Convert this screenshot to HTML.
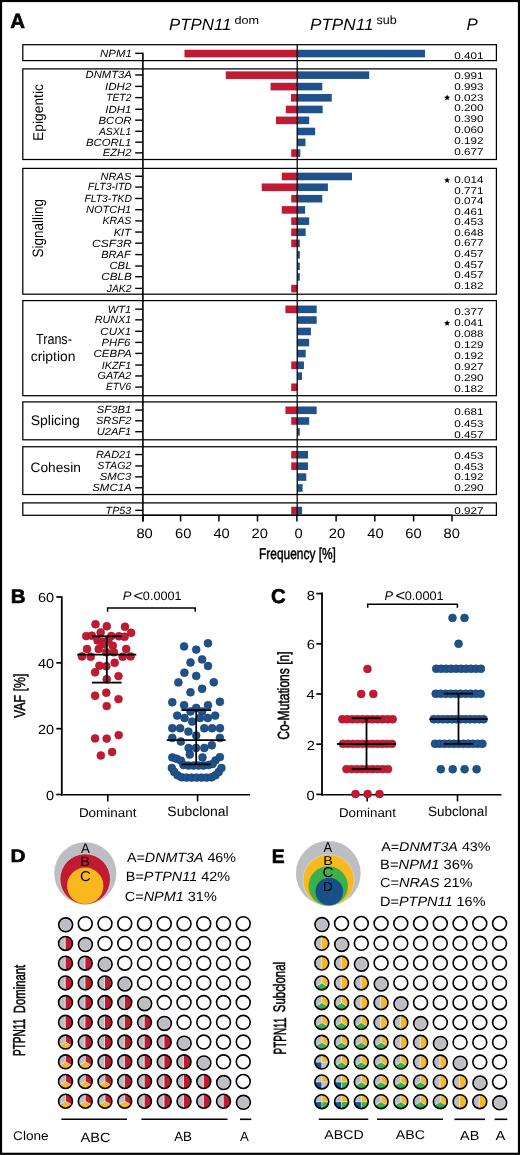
<!DOCTYPE html>
<html><head><meta charset="utf-8"><title>Figure</title>
<style>
html,body{margin:0;padding:0;background:#fff;}
body{width:520px;height:1155px;overflow:hidden;}
svg{display:block;font-family:"Liberation Sans", sans-serif;text-rendering:geometricPrecision;will-change:transform;}
</style></head>
<body>
<svg width="520" height="1155" viewBox="0 0 520 1155" font-family='"Liberation Sans", sans-serif'>
<rect x="0" y="0" width="520" height="1155" fill="#fff"/>
<text x="10.29" y="28.30" font-size="20.58" font-weight="bold" textLength="14.77" lengthAdjust="spacingAndGlyphs" stroke="#000" stroke-width="0.6">A</text>
<text x="168.99" y="30.00" font-size="16.30" font-style="italic" textLength="62.44" lengthAdjust="spacingAndGlyphs">PTPN11</text>
<text x="234.49" y="23.64" font-size="11.22" textLength="24.58" lengthAdjust="spacingAndGlyphs">dom</text>
<text x="309.99" y="30.00" font-size="16.30" font-style="italic" textLength="63.47" lengthAdjust="spacingAndGlyphs">PTPN11</text>
<text x="376.62" y="24.38" font-size="12.24" textLength="20.15" lengthAdjust="spacingAndGlyphs">sub</text>
<text x="466.40" y="29.60" font-size="16.67" font-style="italic" textLength="11.22" lengthAdjust="spacingAndGlyphs">P</text>
<rect x="184.49" y="49.75" width="112.71" height="7.60" fill="#c11b33"/>
<rect x="297.20" y="49.75" width="127.77" height="7.60" fill="#1f528b"/>
<rect x="225.79" y="71.36" width="71.41" height="7.60" fill="#c11b33"/>
<rect x="297.20" y="71.36" width="71.99" height="7.60" fill="#1f528b"/>
<rect x="270.57" y="82.79" width="26.63" height="7.60" fill="#c11b33"/>
<rect x="297.20" y="82.79" width="25.09" height="7.60" fill="#1f528b"/>
<rect x="291.02" y="94.01" width="6.18" height="7.60" fill="#c11b33"/>
<rect x="297.20" y="94.01" width="34.55" height="7.60" fill="#1f528b"/>
<rect x="285.81" y="105.65" width="11.39" height="7.60" fill="#c11b33"/>
<rect x="297.20" y="105.65" width="25.48" height="7.60" fill="#1f528b"/>
<rect x="275.97" y="116.56" width="21.23" height="7.60" fill="#c11b33"/>
<rect x="297.20" y="116.56" width="11.97" height="7.60" fill="#1f528b"/>
<rect x="297.20" y="127.67" width="17.95" height="7.60" fill="#1f528b"/>
<rect x="297.20" y="138.58" width="8.30" height="7.60" fill="#1f528b"/>
<rect x="291.22" y="149.28" width="5.98" height="7.60" fill="#c11b33"/>
<rect x="297.20" y="149.28" width="3.09" height="7.60" fill="#1f528b"/>
<rect x="281.76" y="172.66" width="15.44" height="7.60" fill="#c11b33"/>
<rect x="297.20" y="172.66" width="54.81" height="7.60" fill="#1f528b"/>
<rect x="261.69" y="183.46" width="35.51" height="7.60" fill="#c11b33"/>
<rect x="297.20" y="183.46" width="30.69" height="7.60" fill="#1f528b"/>
<rect x="291.22" y="194.89" width="5.98" height="7.60" fill="#c11b33"/>
<rect x="297.20" y="194.89" width="25.09" height="7.60" fill="#1f528b"/>
<rect x="281.76" y="206.11" width="15.44" height="7.60" fill="#c11b33"/>
<rect x="297.20" y="206.11" width="7.91" height="7.60" fill="#1f528b"/>
<rect x="291.22" y="217.34" width="5.98" height="7.60" fill="#c11b33"/>
<rect x="297.20" y="217.34" width="11.97" height="7.60" fill="#1f528b"/>
<rect x="291.22" y="228.45" width="5.98" height="7.60" fill="#c11b33"/>
<rect x="297.20" y="228.45" width="8.49" height="7.60" fill="#1f528b"/>
<rect x="291.22" y="239.57" width="5.98" height="7.60" fill="#c11b33"/>
<rect x="297.20" y="239.57" width="2.61" height="7.60" fill="#1f528b"/>
<rect x="297.20" y="251.00" width="2.61" height="7.60" fill="#1f528b"/>
<rect x="297.20" y="262.43" width="2.61" height="7.60" fill="#1f528b"/>
<rect x="297.20" y="273.13" width="2.61" height="7.60" fill="#1f528b"/>
<rect x="291.22" y="284.80" width="5.98" height="7.60" fill="#c11b33"/>
<rect x="285.43" y="305.54" width="11.77" height="7.60" fill="#c11b33"/>
<rect x="297.20" y="305.54" width="19.49" height="7.60" fill="#1f528b"/>
<rect x="297.20" y="316.24" width="19.49" height="7.60" fill="#1f528b"/>
<rect x="297.20" y="327.67" width="13.70" height="7.60" fill="#1f528b"/>
<rect x="297.20" y="338.79" width="11.97" height="7.60" fill="#1f528b"/>
<rect x="297.20" y="349.80" width="8.49" height="7.60" fill="#1f528b"/>
<rect x="291.22" y="361.44" width="5.98" height="7.60" fill="#c11b33"/>
<rect x="297.20" y="361.44" width="6.75" height="7.60" fill="#1f528b"/>
<rect x="297.20" y="372.35" width="4.83" height="7.60" fill="#1f528b"/>
<rect x="291.22" y="383.46" width="5.98" height="7.60" fill="#c11b33"/>
<rect x="285.43" y="406.48" width="11.77" height="7.60" fill="#c11b33"/>
<rect x="297.20" y="406.48" width="19.49" height="7.60" fill="#1f528b"/>
<rect x="291.22" y="417.18" width="5.98" height="7.60" fill="#c11b33"/>
<rect x="297.20" y="417.18" width="11.97" height="7.60" fill="#1f528b"/>
<rect x="297.20" y="428.09" width="2.61" height="7.60" fill="#1f528b"/>
<rect x="291.22" y="450.95" width="5.98" height="7.60" fill="#c11b33"/>
<rect x="297.20" y="450.95" width="10.81" height="7.60" fill="#1f528b"/>
<rect x="291.22" y="462.37" width="5.98" height="7.60" fill="#c11b33"/>
<rect x="297.20" y="462.37" width="10.81" height="7.60" fill="#1f528b"/>
<rect x="297.20" y="473.28" width="9.07" height="7.60" fill="#1f528b"/>
<rect x="297.20" y="484.19" width="5.40" height="7.60" fill="#1f528b"/>
<rect x="291.22" y="506.74" width="5.98" height="7.60" fill="#c11b33"/>
<rect x="297.20" y="506.74" width="4.83" height="7.60" fill="#1f528b"/>
<rect x="22.80" y="44.70" width="473.60" height="15.90" fill="none" stroke="#000" stroke-width="1.25"/>
<rect x="22.80" y="68.90" width="473.60" height="90.60" fill="none" stroke="#000" stroke-width="1.25"/>
<rect x="22.80" y="168.40" width="473.60" height="125.80" fill="none" stroke="#000" stroke-width="1.25"/>
<rect x="22.80" y="300.60" width="473.60" height="95.10" fill="none" stroke="#000" stroke-width="1.25"/>
<rect x="22.80" y="401.90" width="473.60" height="37.90" fill="none" stroke="#000" stroke-width="1.25"/>
<rect x="22.80" y="446.75" width="473.60" height="47.80" fill="none" stroke="#000" stroke-width="1.25"/>
<rect x="22.80" y="502.90" width="473.60" height="12.40" fill="none" stroke="#000" stroke-width="1.25"/>
<line x1="297.20" y1="44.70" x2="297.20" y2="515.30" stroke="#000" stroke-width="1.25"/>
<line x1="142.90" y1="52.65" x2="142.90" y2="521.50" stroke="#000" stroke-width="1.6"/>
<line x1="135.20" y1="53.35" x2="143.00" y2="53.35" stroke="#000" stroke-width="1.4"/>
<text x="99.95" y="56.85" font-size="10.40" font-style="italic" textLength="32.01" lengthAdjust="spacingAndGlyphs">NPM1</text>
<line x1="135.20" y1="74.96" x2="143.00" y2="74.96" stroke="#000" stroke-width="1.4"/>
<text x="85.56" y="78.36" font-size="10.40" font-style="italic" textLength="46.22" lengthAdjust="spacingAndGlyphs">DNMT3A</text>
<line x1="135.20" y1="86.39" x2="143.00" y2="86.39" stroke="#000" stroke-width="1.4"/>
<text x="105.09" y="89.89" font-size="10.40" font-style="italic" textLength="26.32" lengthAdjust="spacingAndGlyphs">IDH2</text>
<line x1="135.20" y1="97.61" x2="143.00" y2="97.61" stroke="#000" stroke-width="1.4"/>
<text x="106.28" y="101.11" font-size="10.40" font-style="italic" textLength="25.08" lengthAdjust="spacingAndGlyphs">TET2</text>
<line x1="135.20" y1="109.25" x2="143.00" y2="109.25" stroke="#000" stroke-width="1.4"/>
<text x="105.24" y="112.75" font-size="10.40" font-style="italic" textLength="26.07" lengthAdjust="spacingAndGlyphs">IDH1</text>
<line x1="135.20" y1="120.16" x2="143.00" y2="120.16" stroke="#000" stroke-width="1.4"/>
<text x="98.46" y="123.56" font-size="10.40" font-style="italic" textLength="33.14" lengthAdjust="spacingAndGlyphs">BCOR</text>
<line x1="135.20" y1="131.27" x2="143.00" y2="131.27" stroke="#000" stroke-width="1.4"/>
<text x="98.92" y="134.67" font-size="10.40" font-style="italic" textLength="32.30" lengthAdjust="spacingAndGlyphs">ASXL1</text>
<line x1="135.20" y1="142.18" x2="143.00" y2="142.18" stroke="#000" stroke-width="1.4"/>
<text x="85.96" y="145.58" font-size="10.40" font-style="italic" textLength="45.32" lengthAdjust="spacingAndGlyphs">BCORL1</text>
<line x1="135.20" y1="152.88" x2="143.00" y2="152.88" stroke="#000" stroke-width="1.4"/>
<text x="102.71" y="156.38" font-size="10.40" font-style="italic" textLength="28.67" lengthAdjust="spacingAndGlyphs">EZH2</text>
<line x1="135.20" y1="176.26" x2="143.00" y2="176.26" stroke="#000" stroke-width="1.4"/>
<text x="100.57" y="179.66" font-size="10.40" font-style="italic" textLength="30.78" lengthAdjust="spacingAndGlyphs">NRAS</text>
<line x1="135.20" y1="187.06" x2="143.00" y2="187.06" stroke="#000" stroke-width="1.4"/>
<text x="87.73" y="190.46" font-size="10.40" font-style="italic" textLength="44.22" lengthAdjust="spacingAndGlyphs">FLT3-ITD</text>
<line x1="135.20" y1="198.49" x2="143.00" y2="198.49" stroke="#000" stroke-width="1.4"/>
<text x="84.39" y="201.89" font-size="10.40" font-style="italic" textLength="47.55" lengthAdjust="spacingAndGlyphs">FLT3-TKD</text>
<line x1="135.20" y1="209.71" x2="143.00" y2="209.71" stroke="#000" stroke-width="1.4"/>
<text x="85.97" y="213.11" font-size="10.40" font-style="italic" textLength="45.28" lengthAdjust="spacingAndGlyphs">NOTCH1</text>
<line x1="135.20" y1="220.94" x2="143.00" y2="220.94" stroke="#000" stroke-width="1.4"/>
<text x="102.48" y="224.34" font-size="10.40" font-style="italic" textLength="28.86" lengthAdjust="spacingAndGlyphs">KRAS</text>
<line x1="135.20" y1="232.05" x2="143.00" y2="232.05" stroke="#000" stroke-width="1.4"/>
<text x="113.72" y="235.55" font-size="10.40" font-style="italic" textLength="17.23" lengthAdjust="spacingAndGlyphs">KIT</text>
<line x1="135.20" y1="243.17" x2="143.00" y2="243.17" stroke="#000" stroke-width="1.4"/>
<text x="92.14" y="246.57" font-size="10.40" font-style="italic" textLength="39.46" lengthAdjust="spacingAndGlyphs">CSF3R</text>
<line x1="135.20" y1="254.60" x2="143.00" y2="254.60" stroke="#000" stroke-width="1.4"/>
<text x="101.22" y="258.10" font-size="10.40" font-style="italic" textLength="29.45" lengthAdjust="spacingAndGlyphs">BRAF</text>
<line x1="135.20" y1="266.03" x2="143.00" y2="266.03" stroke="#000" stroke-width="1.4"/>
<text x="109.43" y="269.43" font-size="10.40" font-style="italic" textLength="22.07" lengthAdjust="spacingAndGlyphs">CBL</text>
<line x1="135.20" y1="276.73" x2="143.00" y2="276.73" stroke="#000" stroke-width="1.4"/>
<text x="101.15" y="280.13" font-size="10.40" font-style="italic" textLength="30.83" lengthAdjust="spacingAndGlyphs">CBLB</text>
<line x1="135.20" y1="288.40" x2="143.00" y2="288.40" stroke="#000" stroke-width="1.4"/>
<text x="106.80" y="291.80" font-size="10.40" font-style="italic" textLength="24.56" lengthAdjust="spacingAndGlyphs">JAK2</text>
<line x1="135.20" y1="309.14" x2="143.00" y2="309.14" stroke="#000" stroke-width="1.4"/>
<text x="107.86" y="312.64" font-size="10.40" font-style="italic" textLength="23.39" lengthAdjust="spacingAndGlyphs">WT1</text>
<line x1="135.20" y1="319.84" x2="143.00" y2="319.84" stroke="#000" stroke-width="1.4"/>
<text x="94.73" y="323.24" font-size="10.40" font-style="italic" textLength="36.49" lengthAdjust="spacingAndGlyphs">RUNX1</text>
<line x1="135.20" y1="331.27" x2="143.00" y2="331.27" stroke="#000" stroke-width="1.4"/>
<text x="100.26" y="334.67" font-size="10.40" font-style="italic" textLength="31.06" lengthAdjust="spacingAndGlyphs">CUX1</text>
<line x1="135.20" y1="342.39" x2="143.00" y2="342.39" stroke="#000" stroke-width="1.4"/>
<text x="101.46" y="345.79" font-size="10.40" font-style="italic" textLength="28.85" lengthAdjust="spacingAndGlyphs">PHF6</text>
<line x1="135.20" y1="353.40" x2="143.00" y2="353.40" stroke="#000" stroke-width="1.4"/>
<text x="93.41" y="356.80" font-size="10.40" font-style="italic" textLength="38.38" lengthAdjust="spacingAndGlyphs">CEBPA</text>
<line x1="135.20" y1="365.04" x2="143.00" y2="365.04" stroke="#000" stroke-width="1.4"/>
<text x="101.77" y="368.54" font-size="10.40" font-style="italic" textLength="29.48" lengthAdjust="spacingAndGlyphs">IKZF1</text>
<line x1="135.20" y1="375.95" x2="143.00" y2="375.95" stroke="#000" stroke-width="1.4"/>
<text x="97.51" y="379.35" font-size="10.40" font-style="italic" textLength="33.86" lengthAdjust="spacingAndGlyphs">GATA2</text>
<line x1="135.20" y1="387.06" x2="143.00" y2="387.06" stroke="#000" stroke-width="1.4"/>
<text x="106.00" y="390.46" font-size="10.40" font-style="italic" textLength="25.21" lengthAdjust="spacingAndGlyphs">ETV6</text>
<line x1="135.20" y1="410.08" x2="143.00" y2="410.08" stroke="#000" stroke-width="1.4"/>
<text x="96.86" y="413.48" font-size="10.40" font-style="italic" textLength="34.42" lengthAdjust="spacingAndGlyphs">SF3B1</text>
<line x1="135.20" y1="420.78" x2="143.00" y2="420.78" stroke="#000" stroke-width="1.4"/>
<text x="95.97" y="424.18" font-size="10.40" font-style="italic" textLength="35.43" lengthAdjust="spacingAndGlyphs">SRSF2</text>
<line x1="135.20" y1="431.69" x2="143.00" y2="431.69" stroke="#000" stroke-width="1.4"/>
<text x="96.72" y="435.09" font-size="10.40" font-style="italic" textLength="34.55" lengthAdjust="spacingAndGlyphs">U2AF1</text>
<line x1="135.20" y1="454.55" x2="143.00" y2="454.55" stroke="#000" stroke-width="1.4"/>
<text x="95.97" y="458.05" font-size="10.40" font-style="italic" textLength="35.24" lengthAdjust="spacingAndGlyphs">RAD21</text>
<line x1="135.20" y1="465.97" x2="143.00" y2="465.97" stroke="#000" stroke-width="1.4"/>
<text x="97.23" y="469.37" font-size="10.40" font-style="italic" textLength="34.13" lengthAdjust="spacingAndGlyphs">STAG2</text>
<line x1="135.20" y1="476.88" x2="143.00" y2="476.88" stroke="#000" stroke-width="1.4"/>
<text x="99.71" y="480.28" font-size="10.40" font-style="italic" textLength="31.59" lengthAdjust="spacingAndGlyphs">SMC3</text>
<line x1="135.20" y1="487.79" x2="143.00" y2="487.79" stroke="#000" stroke-width="1.4"/>
<text x="92.21" y="491.19" font-size="10.40" font-style="italic" textLength="39.57" lengthAdjust="spacingAndGlyphs">SMC1A</text>
<line x1="135.20" y1="510.34" x2="143.00" y2="510.34" stroke="#000" stroke-width="1.4"/>
<text x="105.58" y="513.74" font-size="10.40" font-style="italic" textLength="25.67" lengthAdjust="spacingAndGlyphs">TP53</text>
<line x1="143.00" y1="515.20" x2="452.00" y2="515.20" stroke="#000" stroke-width="1.5"/>
<line x1="142.90" y1="515.20" x2="142.90" y2="521.50" stroke="#000" stroke-width="1.5"/>
<text x="136.45" y="537.70" font-size="13.70" textLength="16.38" lengthAdjust="spacingAndGlyphs">80</text>
<line x1="180.60" y1="515.20" x2="180.60" y2="521.50" stroke="#000" stroke-width="1.5"/>
<text x="174.97" y="537.70" font-size="13.70" textLength="16.38" lengthAdjust="spacingAndGlyphs">60</text>
<line x1="218.90" y1="515.20" x2="218.90" y2="521.50" stroke="#000" stroke-width="1.5"/>
<text x="213.44" y="537.70" font-size="13.70" textLength="16.38" lengthAdjust="spacingAndGlyphs">40</text>
<line x1="257.50" y1="515.20" x2="257.50" y2="521.50" stroke="#000" stroke-width="1.5"/>
<text x="251.62" y="537.70" font-size="13.70" textLength="16.38" lengthAdjust="spacingAndGlyphs">20</text>
<line x1="296.90" y1="515.20" x2="296.90" y2="521.50" stroke="#000" stroke-width="1.5"/>
<text x="294.53" y="537.70" font-size="13.70" textLength="8.19" lengthAdjust="spacingAndGlyphs">0</text>
<line x1="336.10" y1="515.20" x2="336.10" y2="521.50" stroke="#000" stroke-width="1.5"/>
<text x="328.77" y="537.70" font-size="13.70" textLength="16.38" lengthAdjust="spacingAndGlyphs">20</text>
<line x1="374.80" y1="515.20" x2="374.80" y2="521.50" stroke="#000" stroke-width="1.5"/>
<text x="367.24" y="537.70" font-size="13.70" textLength="16.38" lengthAdjust="spacingAndGlyphs">40</text>
<line x1="413.60" y1="515.20" x2="413.60" y2="521.50" stroke="#000" stroke-width="1.5"/>
<text x="405.27" y="537.70" font-size="13.70" textLength="16.38" lengthAdjust="spacingAndGlyphs">60</text>
<line x1="452.00" y1="515.20" x2="452.00" y2="521.50" stroke="#000" stroke-width="1.5"/>
<text x="443.50" y="537.70" font-size="13.70" textLength="16.38" lengthAdjust="spacingAndGlyphs">80</text>
<text x="259.05" y="559.20" font-size="15.72" textLength="76.82" lengthAdjust="spacingAndGlyphs" stroke="#000" stroke-width="0.5">Frequency [%]</text>
<text transform="translate(43.34,140.91) rotate(-90)" x="0" y="0" font-size="14.12" textLength="56.84" lengthAdjust="spacingAndGlyphs">Epigentic</text>
<text transform="translate(43.46,257.51) rotate(-90)" x="0" y="0" font-size="14.97" textLength="58.40" lengthAdjust="spacingAndGlyphs">Signalling</text>
<text x="36.05" y="343.65" font-size="14.71" textLength="35.78" lengthAdjust="spacingAndGlyphs">Trans-</text>
<text x="30.75" y="361.00" font-size="13.80" textLength="44.64" lengthAdjust="spacingAndGlyphs">cription</text>
<text x="30.67" y="425.00" font-size="13.80" textLength="49.07" lengthAdjust="spacingAndGlyphs">Splicing</text>
<text x="30.62" y="472.36" font-size="13.61" textLength="50.26" lengthAdjust="spacingAndGlyphs">Cohesin</text>
<text x="454.33" y="58.90" font-size="9.70" textLength="29.13" lengthAdjust="spacingAndGlyphs">0.401</text>
<text x="454.33" y="78.50" font-size="9.70" textLength="29.13" lengthAdjust="spacingAndGlyphs">0.991</text>
<text x="454.33" y="89.80" font-size="9.70" textLength="29.13" lengthAdjust="spacingAndGlyphs">0.993</text>
<text x="454.33" y="100.60" font-size="9.70" textLength="29.13" lengthAdjust="spacingAndGlyphs">0.023</text>
<polygon points="447.10,94.50 447.95,96.54 450.14,96.71 448.47,98.14 448.98,100.29 447.10,99.14 445.22,100.29 445.73,98.14 444.06,96.71 446.25,96.54" fill="#000"/>
<text x="454.33" y="111.40" font-size="9.70" textLength="29.13" lengthAdjust="spacingAndGlyphs">0.200</text>
<text x="454.33" y="122.30" font-size="9.70" textLength="29.13" lengthAdjust="spacingAndGlyphs">0.390</text>
<text x="454.33" y="133.30" font-size="9.70" textLength="29.13" lengthAdjust="spacingAndGlyphs">0.060</text>
<text x="454.33" y="144.20" font-size="9.70" textLength="29.13" lengthAdjust="spacingAndGlyphs">0.192</text>
<text x="454.33" y="155.20" font-size="9.70" textLength="29.13" lengthAdjust="spacingAndGlyphs">0.677</text>
<text x="454.33" y="183.30" font-size="9.70" textLength="29.13" lengthAdjust="spacingAndGlyphs">0.014</text>
<polygon points="447.10,177.20 447.95,179.24 450.14,179.41 448.47,180.84 448.98,182.99 447.10,181.84 445.22,182.99 445.73,180.84 444.06,179.41 446.25,179.24" fill="#000"/>
<text x="454.33" y="193.70" font-size="9.70" textLength="29.13" lengthAdjust="spacingAndGlyphs">0.771</text>
<text x="454.33" y="204.10" font-size="9.70" textLength="29.13" lengthAdjust="spacingAndGlyphs">0.074</text>
<text x="454.33" y="214.80" font-size="9.70" textLength="29.13" lengthAdjust="spacingAndGlyphs">0.461</text>
<text x="454.33" y="225.40" font-size="9.70" textLength="29.13" lengthAdjust="spacingAndGlyphs">0.453</text>
<text x="454.33" y="235.80" font-size="9.70" textLength="29.13" lengthAdjust="spacingAndGlyphs">0.648</text>
<text x="454.33" y="246.20" font-size="9.70" textLength="29.13" lengthAdjust="spacingAndGlyphs">0.677</text>
<text x="454.33" y="256.80" font-size="9.70" textLength="29.13" lengthAdjust="spacingAndGlyphs">0.457</text>
<text x="454.33" y="267.50" font-size="9.70" textLength="29.13" lengthAdjust="spacingAndGlyphs">0.457</text>
<text x="454.33" y="277.90" font-size="9.70" textLength="29.13" lengthAdjust="spacingAndGlyphs">0.457</text>
<text x="454.33" y="288.60" font-size="9.70" textLength="29.13" lengthAdjust="spacingAndGlyphs">0.182</text>
<text x="454.33" y="315.10" font-size="9.70" textLength="29.13" lengthAdjust="spacingAndGlyphs">0.377</text>
<text x="454.33" y="326.10" font-size="9.70" textLength="29.13" lengthAdjust="spacingAndGlyphs">0.041</text>
<polygon points="447.10,320.00 447.95,322.04 450.14,322.21 448.47,323.64 448.98,325.79 447.10,324.64 445.22,325.79 445.73,323.64 444.06,322.21 446.25,322.04" fill="#000"/>
<text x="454.33" y="336.70" font-size="9.70" textLength="29.13" lengthAdjust="spacingAndGlyphs">0.088</text>
<text x="454.33" y="348.00" font-size="9.70" textLength="29.13" lengthAdjust="spacingAndGlyphs">0.129</text>
<text x="454.33" y="359.00" font-size="9.70" textLength="29.13" lengthAdjust="spacingAndGlyphs">0.192</text>
<text x="454.33" y="369.90" font-size="9.70" textLength="29.13" lengthAdjust="spacingAndGlyphs">0.927</text>
<text x="454.33" y="380.90" font-size="9.70" textLength="29.13" lengthAdjust="spacingAndGlyphs">0.290</text>
<text x="454.33" y="391.60" font-size="9.70" textLength="29.13" lengthAdjust="spacingAndGlyphs">0.182</text>
<text x="454.33" y="414.60" font-size="9.70" textLength="29.13" lengthAdjust="spacingAndGlyphs">0.681</text>
<text x="454.33" y="427.00" font-size="9.70" textLength="29.13" lengthAdjust="spacingAndGlyphs">0.453</text>
<text x="454.33" y="438.20" font-size="9.70" textLength="29.13" lengthAdjust="spacingAndGlyphs">0.457</text>
<text x="454.33" y="459.00" font-size="9.70" textLength="29.13" lengthAdjust="spacingAndGlyphs">0.453</text>
<text x="454.33" y="469.70" font-size="9.70" textLength="29.13" lengthAdjust="spacingAndGlyphs">0.453</text>
<text x="454.33" y="480.10" font-size="9.70" textLength="29.13" lengthAdjust="spacingAndGlyphs">0.192</text>
<text x="454.33" y="490.90" font-size="9.70" textLength="29.13" lengthAdjust="spacingAndGlyphs">0.290</text>
<text x="454.33" y="513.80" font-size="9.70" textLength="29.13" lengthAdjust="spacingAndGlyphs">0.927</text>
<text x="10.77" y="602.60" font-size="19.71" font-weight="bold" textLength="14.80" lengthAdjust="spacingAndGlyphs" stroke="#000" stroke-width="0.6">B</text>
<line x1="61.80" y1="596.30" x2="61.80" y2="795.50" stroke="#000" stroke-width="1.8"/>
<line x1="56.30" y1="794.50" x2="61.80" y2="794.50" stroke="#000" stroke-width="1.7"/>
<text x="46.05" y="799.60" font-size="13.20" textLength="8.08" lengthAdjust="spacingAndGlyphs">0</text>
<line x1="56.30" y1="728.67" x2="61.80" y2="728.67" stroke="#000" stroke-width="1.7"/>
<text x="37.99" y="733.77" font-size="13.20" textLength="16.15" lengthAdjust="spacingAndGlyphs">20</text>
<line x1="56.30" y1="662.83" x2="61.80" y2="662.83" stroke="#000" stroke-width="1.7"/>
<text x="37.99" y="667.93" font-size="13.20" textLength="16.15" lengthAdjust="spacingAndGlyphs">40</text>
<line x1="56.30" y1="597.00" x2="61.80" y2="597.00" stroke="#000" stroke-width="1.7"/>
<text x="37.99" y="602.10" font-size="13.20" textLength="16.15" lengthAdjust="spacingAndGlyphs">60</text>
<line x1="61.00" y1="794.70" x2="250.00" y2="794.70" stroke="#000" stroke-width="1.6"/>
<line x1="107.80" y1="794.70" x2="107.80" y2="801.40" stroke="#000" stroke-width="1.6"/>
<line x1="197.60" y1="794.70" x2="197.60" y2="801.40" stroke="#000" stroke-width="1.6"/>
<text x="78.93" y="816.77" font-size="12.79" textLength="57.46" lengthAdjust="spacingAndGlyphs">Dominant</text>
<text x="167.37" y="816.46" font-size="13.74" textLength="61.27" lengthAdjust="spacingAndGlyphs">Subclonal</text>
<text transform="translate(24.60,718.06) rotate(-90)" x="0" y="0" font-size="15.72" textLength="44.37" lengthAdjust="spacingAndGlyphs" stroke="#000" stroke-width="0.5">VAF [%]</text>
<circle cx="95.50" cy="624.30" r="3.95" fill="#c11b33" stroke="#a5132b" stroke-width="0.6"/>
<circle cx="106.80" cy="626.20" r="3.95" fill="#c11b33" stroke="#a5132b" stroke-width="0.6"/>
<circle cx="125.00" cy="626.80" r="3.95" fill="#c11b33" stroke="#a5132b" stroke-width="0.6"/>
<circle cx="100.70" cy="632.40" r="3.95" fill="#c11b33" stroke="#a5132b" stroke-width="0.6"/>
<circle cx="131.10" cy="632.80" r="3.95" fill="#c11b33" stroke="#a5132b" stroke-width="0.6"/>
<circle cx="86.20" cy="636.10" r="3.95" fill="#c11b33" stroke="#a5132b" stroke-width="0.6"/>
<circle cx="91.80" cy="635.70" r="3.95" fill="#c11b33" stroke="#a5132b" stroke-width="0.6"/>
<circle cx="111.30" cy="636.00" r="3.95" fill="#c11b33" stroke="#a5132b" stroke-width="0.6"/>
<circle cx="118.90" cy="636.30" r="3.95" fill="#c11b33" stroke="#a5132b" stroke-width="0.6"/>
<circle cx="124.60" cy="636.80" r="3.95" fill="#c11b33" stroke="#a5132b" stroke-width="0.6"/>
<circle cx="97.50" cy="640.50" r="3.95" fill="#c11b33" stroke="#a5132b" stroke-width="0.6"/>
<circle cx="102.30" cy="641.70" r="3.95" fill="#c11b33" stroke="#a5132b" stroke-width="0.6"/>
<circle cx="104.50" cy="644.00" r="3.95" fill="#c11b33" stroke="#a5132b" stroke-width="0.6"/>
<circle cx="108.50" cy="639.50" r="3.95" fill="#c11b33" stroke="#a5132b" stroke-width="0.6"/>
<circle cx="112.80" cy="645.80" r="3.95" fill="#c11b33" stroke="#a5132b" stroke-width="0.6"/>
<circle cx="87.00" cy="649.00" r="3.95" fill="#c11b33" stroke="#a5132b" stroke-width="0.6"/>
<circle cx="98.70" cy="649.00" r="3.95" fill="#c11b33" stroke="#a5132b" stroke-width="0.6"/>
<circle cx="126.20" cy="649.00" r="3.95" fill="#c11b33" stroke="#a5132b" stroke-width="0.6"/>
<circle cx="106.30" cy="652.30" r="3.95" fill="#c11b33" stroke="#a5132b" stroke-width="0.6"/>
<circle cx="113.90" cy="652.30" r="3.95" fill="#c11b33" stroke="#a5132b" stroke-width="0.6"/>
<circle cx="82.00" cy="656.40" r="3.95" fill="#c11b33" stroke="#a5132b" stroke-width="0.6"/>
<circle cx="90.70" cy="656.70" r="3.95" fill="#c11b33" stroke="#a5132b" stroke-width="0.6"/>
<circle cx="122.70" cy="656.70" r="3.95" fill="#c11b33" stroke="#a5132b" stroke-width="0.6"/>
<circle cx="130.60" cy="656.40" r="3.95" fill="#c11b33" stroke="#a5132b" stroke-width="0.6"/>
<circle cx="99.40" cy="665.70" r="3.95" fill="#c11b33" stroke="#a5132b" stroke-width="0.6"/>
<circle cx="106.30" cy="666.20" r="3.95" fill="#c11b33" stroke="#a5132b" stroke-width="0.6"/>
<circle cx="114.70" cy="662.80" r="3.95" fill="#c11b33" stroke="#a5132b" stroke-width="0.6"/>
<circle cx="95.10" cy="672.30" r="3.95" fill="#c11b33" stroke="#a5132b" stroke-width="0.6"/>
<circle cx="106.70" cy="679.20" r="3.95" fill="#c11b33" stroke="#a5132b" stroke-width="0.6"/>
<circle cx="118.50" cy="676.10" r="3.95" fill="#c11b33" stroke="#a5132b" stroke-width="0.6"/>
<circle cx="95.10" cy="695.70" r="3.95" fill="#c11b33" stroke="#a5132b" stroke-width="0.6"/>
<circle cx="106.30" cy="692.70" r="3.95" fill="#c11b33" stroke="#a5132b" stroke-width="0.6"/>
<circle cx="118.50" cy="699.10" r="3.95" fill="#c11b33" stroke="#a5132b" stroke-width="0.6"/>
<circle cx="106.70" cy="706.10" r="3.95" fill="#c11b33" stroke="#a5132b" stroke-width="0.6"/>
<circle cx="95.10" cy="738.40" r="3.95" fill="#c11b33" stroke="#a5132b" stroke-width="0.6"/>
<circle cx="106.70" cy="738.60" r="3.95" fill="#c11b33" stroke="#a5132b" stroke-width="0.6"/>
<circle cx="118.70" cy="735.10" r="3.95" fill="#c11b33" stroke="#a5132b" stroke-width="0.6"/>
<circle cx="100.80" cy="755.50" r="3.95" fill="#c11b33" stroke="#a5132b" stroke-width="0.6"/>
<circle cx="112.10" cy="752.00" r="3.95" fill="#c11b33" stroke="#a5132b" stroke-width="0.6"/>
<circle cx="184.10" cy="646.40" r="3.95" fill="#1f528b" stroke="#153f6e" stroke-width="0.6"/>
<circle cx="196.20" cy="649.60" r="3.95" fill="#1f528b" stroke="#153f6e" stroke-width="0.6"/>
<circle cx="208.00" cy="643.30" r="3.95" fill="#1f528b" stroke="#153f6e" stroke-width="0.6"/>
<circle cx="190.50" cy="662.50" r="3.95" fill="#1f528b" stroke="#153f6e" stroke-width="0.6"/>
<circle cx="202.10" cy="659.40" r="3.95" fill="#1f528b" stroke="#153f6e" stroke-width="0.6"/>
<circle cx="208.00" cy="666.00" r="3.95" fill="#1f528b" stroke="#153f6e" stroke-width="0.6"/>
<circle cx="184.40" cy="672.70" r="3.95" fill="#1f528b" stroke="#153f6e" stroke-width="0.6"/>
<circle cx="196.20" cy="675.90" r="3.95" fill="#1f528b" stroke="#153f6e" stroke-width="0.6"/>
<circle cx="178.40" cy="682.40" r="3.95" fill="#1f528b" stroke="#153f6e" stroke-width="0.6"/>
<circle cx="213.80" cy="682.30" r="3.95" fill="#1f528b" stroke="#153f6e" stroke-width="0.6"/>
<circle cx="190.50" cy="692.30" r="3.95" fill="#1f528b" stroke="#153f6e" stroke-width="0.6"/>
<circle cx="202.10" cy="688.80" r="3.95" fill="#1f528b" stroke="#153f6e" stroke-width="0.6"/>
<circle cx="172.30" cy="702.30" r="3.95" fill="#1f528b" stroke="#153f6e" stroke-width="0.6"/>
<circle cx="219.90" cy="701.80" r="3.95" fill="#1f528b" stroke="#153f6e" stroke-width="0.6"/>
<circle cx="184.10" cy="705.30" r="3.95" fill="#1f528b" stroke="#153f6e" stroke-width="0.6"/>
<circle cx="196.20" cy="707.90" r="3.95" fill="#1f528b" stroke="#153f6e" stroke-width="0.6"/>
<circle cx="208.00" cy="705.30" r="3.95" fill="#1f528b" stroke="#153f6e" stroke-width="0.6"/>
<circle cx="190.50" cy="711.50" r="3.95" fill="#1f528b" stroke="#153f6e" stroke-width="0.6"/>
<circle cx="202.10" cy="711.50" r="3.95" fill="#1f528b" stroke="#153f6e" stroke-width="0.6"/>
<circle cx="177.20" cy="715.60" r="3.95" fill="#1f528b" stroke="#153f6e" stroke-width="0.6"/>
<circle cx="184.50" cy="718.00" r="3.95" fill="#1f528b" stroke="#153f6e" stroke-width="0.6"/>
<circle cx="192.20" cy="721.60" r="3.95" fill="#1f528b" stroke="#153f6e" stroke-width="0.6"/>
<circle cx="200.00" cy="718.00" r="3.95" fill="#1f528b" stroke="#153f6e" stroke-width="0.6"/>
<circle cx="207.80" cy="718.00" r="3.95" fill="#1f528b" stroke="#153f6e" stroke-width="0.6"/>
<circle cx="215.20" cy="715.60" r="3.95" fill="#1f528b" stroke="#153f6e" stroke-width="0.6"/>
<circle cx="172.30" cy="728.20" r="3.95" fill="#1f528b" stroke="#153f6e" stroke-width="0.6"/>
<circle cx="180.10" cy="728.20" r="3.95" fill="#1f528b" stroke="#153f6e" stroke-width="0.6"/>
<circle cx="188.40" cy="731.60" r="3.95" fill="#1f528b" stroke="#153f6e" stroke-width="0.6"/>
<circle cx="204.30" cy="728.20" r="3.95" fill="#1f528b" stroke="#153f6e" stroke-width="0.6"/>
<circle cx="212.10" cy="728.20" r="3.95" fill="#1f528b" stroke="#153f6e" stroke-width="0.6"/>
<circle cx="220.00" cy="728.20" r="3.95" fill="#1f528b" stroke="#153f6e" stroke-width="0.6"/>
<circle cx="196.20" cy="735.50" r="3.95" fill="#1f528b" stroke="#153f6e" stroke-width="0.6"/>
<circle cx="172.30" cy="737.90" r="3.95" fill="#1f528b" stroke="#153f6e" stroke-width="0.6"/>
<circle cx="180.90" cy="741.50" r="3.95" fill="#1f528b" stroke="#153f6e" stroke-width="0.6"/>
<circle cx="219.90" cy="737.90" r="3.95" fill="#1f528b" stroke="#153f6e" stroke-width="0.6"/>
<circle cx="188.60" cy="748.00" r="3.95" fill="#1f528b" stroke="#153f6e" stroke-width="0.6"/>
<circle cx="196.00" cy="748.00" r="3.95" fill="#1f528b" stroke="#153f6e" stroke-width="0.6"/>
<circle cx="204.30" cy="748.00" r="3.95" fill="#1f528b" stroke="#153f6e" stroke-width="0.6"/>
<circle cx="211.80" cy="745.20" r="3.95" fill="#1f528b" stroke="#153f6e" stroke-width="0.6"/>
<circle cx="189.80" cy="754.50" r="3.95" fill="#1f528b" stroke="#153f6e" stroke-width="0.6"/>
<circle cx="202.50" cy="757.40" r="3.95" fill="#1f528b" stroke="#153f6e" stroke-width="0.6"/>
<circle cx="172.30" cy="757.40" r="3.95" fill="#1f528b" stroke="#153f6e" stroke-width="0.6"/>
<circle cx="176.60" cy="758.80" r="3.95" fill="#1f528b" stroke="#153f6e" stroke-width="0.6"/>
<circle cx="180.90" cy="760.60" r="3.95" fill="#1f528b" stroke="#153f6e" stroke-width="0.6"/>
<circle cx="215.50" cy="760.40" r="3.95" fill="#1f528b" stroke="#153f6e" stroke-width="0.6"/>
<circle cx="219.90" cy="757.10" r="3.95" fill="#1f528b" stroke="#153f6e" stroke-width="0.6"/>
<circle cx="183.50" cy="765.00" r="3.95" fill="#1f528b" stroke="#153f6e" stroke-width="0.6"/>
<circle cx="188.50" cy="765.50" r="3.95" fill="#1f528b" stroke="#153f6e" stroke-width="0.6"/>
<circle cx="193.50" cy="765.50" r="3.95" fill="#1f528b" stroke="#153f6e" stroke-width="0.6"/>
<circle cx="198.50" cy="765.50" r="3.95" fill="#1f528b" stroke="#153f6e" stroke-width="0.6"/>
<circle cx="203.50" cy="765.50" r="3.95" fill="#1f528b" stroke="#153f6e" stroke-width="0.6"/>
<circle cx="208.50" cy="765.00" r="3.95" fill="#1f528b" stroke="#153f6e" stroke-width="0.6"/>
<circle cx="212.50" cy="764.00" r="3.95" fill="#1f528b" stroke="#153f6e" stroke-width="0.6"/>
<circle cx="171.80" cy="768.00" r="3.95" fill="#1f528b" stroke="#153f6e" stroke-width="0.6"/>
<circle cx="174.30" cy="772.00" r="3.95" fill="#1f528b" stroke="#153f6e" stroke-width="0.6"/>
<circle cx="177.50" cy="775.30" r="3.95" fill="#1f528b" stroke="#153f6e" stroke-width="0.6"/>
<circle cx="181.50" cy="777.30" r="3.95" fill="#1f528b" stroke="#153f6e" stroke-width="0.6"/>
<circle cx="186.50" cy="777.60" r="3.95" fill="#1f528b" stroke="#153f6e" stroke-width="0.6"/>
<circle cx="191.50" cy="777.60" r="3.95" fill="#1f528b" stroke="#153f6e" stroke-width="0.6"/>
<circle cx="196.50" cy="777.60" r="3.95" fill="#1f528b" stroke="#153f6e" stroke-width="0.6"/>
<circle cx="201.50" cy="777.60" r="3.95" fill="#1f528b" stroke="#153f6e" stroke-width="0.6"/>
<circle cx="206.50" cy="777.60" r="3.95" fill="#1f528b" stroke="#153f6e" stroke-width="0.6"/>
<circle cx="211.50" cy="777.30" r="3.95" fill="#1f528b" stroke="#153f6e" stroke-width="0.6"/>
<circle cx="215.50" cy="775.30" r="3.95" fill="#1f528b" stroke="#153f6e" stroke-width="0.6"/>
<circle cx="218.70" cy="772.00" r="3.95" fill="#1f528b" stroke="#153f6e" stroke-width="0.6"/>
<circle cx="221.40" cy="768.00" r="3.95" fill="#1f528b" stroke="#153f6e" stroke-width="0.6"/>
<line x1="77.30" y1="654.60" x2="136.30" y2="654.60" stroke="#000" stroke-width="1.8"/>
<line x1="92.00" y1="636.30" x2="121.60" y2="636.30" stroke="#000" stroke-width="1.8"/>
<line x1="92.00" y1="682.60" x2="121.60" y2="682.60" stroke="#000" stroke-width="1.8"/>
<line x1="106.80" y1="636.30" x2="106.80" y2="682.60" stroke="#000" stroke-width="1.8"/>
<line x1="166.80" y1="740.20" x2="225.60" y2="740.20" stroke="#000" stroke-width="1.8"/>
<line x1="181.40" y1="710.10" x2="211.00" y2="710.10" stroke="#000" stroke-width="1.8"/>
<line x1="181.40" y1="764.40" x2="211.00" y2="764.40" stroke="#000" stroke-width="1.8"/>
<line x1="196.20" y1="710.10" x2="196.20" y2="764.40" stroke="#000" stroke-width="1.8"/>
<polyline points="107.6,611.8 107.6,608 195.2,608 195.2,611.8" fill="none" stroke="#000" stroke-width="1.5"/>
<text x="122.81" y="599.90" font-size="12.32" font-style="italic" textLength="8.68" lengthAdjust="spacingAndGlyphs">P</text>
<text x="133.55" y="600.67" font-size="15.64" textLength="9.87" lengthAdjust="spacingAndGlyphs">&lt;</text>
<text x="142.89" y="599.98" font-size="12.25" textLength="38.76" lengthAdjust="spacingAndGlyphs">0.0001</text>
<text x="270.99" y="602.90" font-size="20.14" font-weight="bold" textLength="14.66" lengthAdjust="spacingAndGlyphs" stroke="#000" stroke-width="0.6">C</text>
<line x1="322.00" y1="592.60" x2="322.00" y2="795.50" stroke="#000" stroke-width="1.8"/>
<line x1="316.30" y1="794.40" x2="322.00" y2="794.40" stroke="#000" stroke-width="1.7"/>
<text x="306.61" y="799.65" font-size="13.20" textLength="8.22" lengthAdjust="spacingAndGlyphs">0</text>
<line x1="316.30" y1="744.20" x2="322.00" y2="744.20" stroke="#000" stroke-width="1.7"/>
<text x="306.83" y="750.45" font-size="13.20" textLength="8.22" lengthAdjust="spacingAndGlyphs">2</text>
<line x1="316.30" y1="694.00" x2="322.00" y2="694.00" stroke="#000" stroke-width="1.7"/>
<text x="306.54" y="699.45" font-size="13.20" textLength="8.22" lengthAdjust="spacingAndGlyphs">4</text>
<line x1="316.30" y1="643.80" x2="322.00" y2="643.80" stroke="#000" stroke-width="1.7"/>
<text x="306.69" y="649.15" font-size="13.20" textLength="8.22" lengthAdjust="spacingAndGlyphs">6</text>
<line x1="316.30" y1="593.60" x2="322.00" y2="593.60" stroke="#000" stroke-width="1.7"/>
<text x="306.69" y="599.55" font-size="13.20" textLength="8.22" lengthAdjust="spacingAndGlyphs">8</text>
<line x1="321.50" y1="794.70" x2="501.50" y2="794.70" stroke="#000" stroke-width="1.6"/>
<line x1="367.20" y1="794.70" x2="367.20" y2="801.40" stroke="#000" stroke-width="1.6"/>
<line x1="457.50" y1="794.70" x2="457.50" y2="801.40" stroke="#000" stroke-width="1.6"/>
<text x="338.93" y="816.77" font-size="12.79" textLength="57.00" lengthAdjust="spacingAndGlyphs">Dominant</text>
<text x="427.89" y="816.46" font-size="13.74" textLength="59.52" lengthAdjust="spacingAndGlyphs">Subclonal</text>
<text transform="translate(288.91,739.80) rotate(-90)" x="0" y="0" font-size="16.15" textLength="88.36" lengthAdjust="spacingAndGlyphs" stroke="#000" stroke-width="0.5">Co-Mutations [n]</text>
<circle cx="367.45" cy="668.95" r="3.95" fill="#c11b33" stroke="#a5132b" stroke-width="0.6"/>
<circle cx="361.20" cy="693.95" r="3.95" fill="#c11b33" stroke="#a5132b" stroke-width="0.6"/>
<circle cx="373.30" cy="693.95" r="3.95" fill="#c11b33" stroke="#a5132b" stroke-width="0.6"/>
<circle cx="342.30" cy="719.20" r="3.95" fill="#c11b33" stroke="#a5132b" stroke-width="0.6"/>
<circle cx="347.34" cy="719.20" r="3.95" fill="#c11b33" stroke="#a5132b" stroke-width="0.6"/>
<circle cx="352.38" cy="719.20" r="3.95" fill="#c11b33" stroke="#a5132b" stroke-width="0.6"/>
<circle cx="357.42" cy="719.20" r="3.95" fill="#c11b33" stroke="#a5132b" stroke-width="0.6"/>
<circle cx="362.46" cy="719.20" r="3.95" fill="#c11b33" stroke="#a5132b" stroke-width="0.6"/>
<circle cx="367.50" cy="719.20" r="3.95" fill="#c11b33" stroke="#a5132b" stroke-width="0.6"/>
<circle cx="372.54" cy="719.20" r="3.95" fill="#c11b33" stroke="#a5132b" stroke-width="0.6"/>
<circle cx="377.58" cy="719.20" r="3.95" fill="#c11b33" stroke="#a5132b" stroke-width="0.6"/>
<circle cx="382.62" cy="719.20" r="3.95" fill="#c11b33" stroke="#a5132b" stroke-width="0.6"/>
<circle cx="387.66" cy="719.20" r="3.95" fill="#c11b33" stroke="#a5132b" stroke-width="0.6"/>
<circle cx="392.70" cy="719.20" r="3.95" fill="#c11b33" stroke="#a5132b" stroke-width="0.6"/>
<circle cx="342.90" cy="743.85" r="3.95" fill="#c11b33" stroke="#a5132b" stroke-width="0.6"/>
<circle cx="347.81" cy="743.85" r="3.95" fill="#c11b33" stroke="#a5132b" stroke-width="0.6"/>
<circle cx="352.72" cy="743.85" r="3.95" fill="#c11b33" stroke="#a5132b" stroke-width="0.6"/>
<circle cx="357.63" cy="743.85" r="3.95" fill="#c11b33" stroke="#a5132b" stroke-width="0.6"/>
<circle cx="362.54" cy="743.85" r="3.95" fill="#c11b33" stroke="#a5132b" stroke-width="0.6"/>
<circle cx="367.45" cy="743.85" r="3.95" fill="#c11b33" stroke="#a5132b" stroke-width="0.6"/>
<circle cx="372.36" cy="743.85" r="3.95" fill="#c11b33" stroke="#a5132b" stroke-width="0.6"/>
<circle cx="377.27" cy="743.85" r="3.95" fill="#c11b33" stroke="#a5132b" stroke-width="0.6"/>
<circle cx="382.18" cy="743.85" r="3.95" fill="#c11b33" stroke="#a5132b" stroke-width="0.6"/>
<circle cx="387.09" cy="743.85" r="3.95" fill="#c11b33" stroke="#a5132b" stroke-width="0.6"/>
<circle cx="392.00" cy="743.85" r="3.95" fill="#c11b33" stroke="#a5132b" stroke-width="0.6"/>
<circle cx="346.40" cy="769.10" r="3.95" fill="#c11b33" stroke="#a5132b" stroke-width="0.6"/>
<circle cx="351.60" cy="769.10" r="3.95" fill="#c11b33" stroke="#a5132b" stroke-width="0.6"/>
<circle cx="356.80" cy="769.10" r="3.95" fill="#c11b33" stroke="#a5132b" stroke-width="0.6"/>
<circle cx="362.00" cy="769.10" r="3.95" fill="#c11b33" stroke="#a5132b" stroke-width="0.6"/>
<circle cx="367.20" cy="769.10" r="3.95" fill="#c11b33" stroke="#a5132b" stroke-width="0.6"/>
<circle cx="372.40" cy="769.10" r="3.95" fill="#c11b33" stroke="#a5132b" stroke-width="0.6"/>
<circle cx="377.60" cy="769.10" r="3.95" fill="#c11b33" stroke="#a5132b" stroke-width="0.6"/>
<circle cx="382.80" cy="769.10" r="3.95" fill="#c11b33" stroke="#a5132b" stroke-width="0.6"/>
<circle cx="388.00" cy="769.10" r="3.95" fill="#c11b33" stroke="#a5132b" stroke-width="0.6"/>
<circle cx="355.50" cy="794.00" r="3.95" fill="#c11b33" stroke="#a5132b" stroke-width="0.6"/>
<circle cx="367.60" cy="794.00" r="3.95" fill="#c11b33" stroke="#a5132b" stroke-width="0.6"/>
<circle cx="379.50" cy="794.00" r="3.95" fill="#c11b33" stroke="#a5132b" stroke-width="0.6"/>
<circle cx="452.50" cy="617.90" r="3.95" fill="#1f528b" stroke="#153f6e" stroke-width="0.6"/>
<circle cx="464.50" cy="617.90" r="3.95" fill="#1f528b" stroke="#153f6e" stroke-width="0.6"/>
<circle cx="458.60" cy="643.80" r="3.95" fill="#1f528b" stroke="#153f6e" stroke-width="0.6"/>
<circle cx="436.20" cy="668.80" r="3.95" fill="#1f528b" stroke="#153f6e" stroke-width="0.6"/>
<circle cx="441.17" cy="668.80" r="3.95" fill="#1f528b" stroke="#153f6e" stroke-width="0.6"/>
<circle cx="446.13" cy="668.80" r="3.95" fill="#1f528b" stroke="#153f6e" stroke-width="0.6"/>
<circle cx="451.10" cy="668.80" r="3.95" fill="#1f528b" stroke="#153f6e" stroke-width="0.6"/>
<circle cx="456.07" cy="668.80" r="3.95" fill="#1f528b" stroke="#153f6e" stroke-width="0.6"/>
<circle cx="461.03" cy="668.80" r="3.95" fill="#1f528b" stroke="#153f6e" stroke-width="0.6"/>
<circle cx="466.00" cy="668.80" r="3.95" fill="#1f528b" stroke="#153f6e" stroke-width="0.6"/>
<circle cx="470.97" cy="668.80" r="3.95" fill="#1f528b" stroke="#153f6e" stroke-width="0.6"/>
<circle cx="475.93" cy="668.80" r="3.95" fill="#1f528b" stroke="#153f6e" stroke-width="0.6"/>
<circle cx="480.90" cy="668.80" r="3.95" fill="#1f528b" stroke="#153f6e" stroke-width="0.6"/>
<circle cx="435.70" cy="693.80" r="3.95" fill="#1f528b" stroke="#153f6e" stroke-width="0.6"/>
<circle cx="440.70" cy="693.80" r="3.95" fill="#1f528b" stroke="#153f6e" stroke-width="0.6"/>
<circle cx="445.70" cy="693.80" r="3.95" fill="#1f528b" stroke="#153f6e" stroke-width="0.6"/>
<circle cx="450.70" cy="693.80" r="3.95" fill="#1f528b" stroke="#153f6e" stroke-width="0.6"/>
<circle cx="455.70" cy="693.80" r="3.95" fill="#1f528b" stroke="#153f6e" stroke-width="0.6"/>
<circle cx="460.70" cy="693.80" r="3.95" fill="#1f528b" stroke="#153f6e" stroke-width="0.6"/>
<circle cx="465.70" cy="693.80" r="3.95" fill="#1f528b" stroke="#153f6e" stroke-width="0.6"/>
<circle cx="470.70" cy="693.80" r="3.95" fill="#1f528b" stroke="#153f6e" stroke-width="0.6"/>
<circle cx="475.70" cy="693.80" r="3.95" fill="#1f528b" stroke="#153f6e" stroke-width="0.6"/>
<circle cx="480.70" cy="693.80" r="3.95" fill="#1f528b" stroke="#153f6e" stroke-width="0.6"/>
<circle cx="433.70" cy="719.20" r="3.95" fill="#1f528b" stroke="#153f6e" stroke-width="0.6"/>
<circle cx="438.24" cy="719.20" r="3.95" fill="#1f528b" stroke="#153f6e" stroke-width="0.6"/>
<circle cx="442.77" cy="719.20" r="3.95" fill="#1f528b" stroke="#153f6e" stroke-width="0.6"/>
<circle cx="447.31" cy="719.20" r="3.95" fill="#1f528b" stroke="#153f6e" stroke-width="0.6"/>
<circle cx="451.85" cy="719.20" r="3.95" fill="#1f528b" stroke="#153f6e" stroke-width="0.6"/>
<circle cx="456.38" cy="719.20" r="3.95" fill="#1f528b" stroke="#153f6e" stroke-width="0.6"/>
<circle cx="460.92" cy="719.20" r="3.95" fill="#1f528b" stroke="#153f6e" stroke-width="0.6"/>
<circle cx="465.45" cy="719.20" r="3.95" fill="#1f528b" stroke="#153f6e" stroke-width="0.6"/>
<circle cx="469.99" cy="719.20" r="3.95" fill="#1f528b" stroke="#153f6e" stroke-width="0.6"/>
<circle cx="474.53" cy="719.20" r="3.95" fill="#1f528b" stroke="#153f6e" stroke-width="0.6"/>
<circle cx="479.06" cy="719.20" r="3.95" fill="#1f528b" stroke="#153f6e" stroke-width="0.6"/>
<circle cx="483.60" cy="719.20" r="3.95" fill="#1f528b" stroke="#153f6e" stroke-width="0.6"/>
<circle cx="435.00" cy="743.80" r="3.95" fill="#1f528b" stroke="#153f6e" stroke-width="0.6"/>
<circle cx="439.74" cy="743.80" r="3.95" fill="#1f528b" stroke="#153f6e" stroke-width="0.6"/>
<circle cx="444.48" cy="743.80" r="3.95" fill="#1f528b" stroke="#153f6e" stroke-width="0.6"/>
<circle cx="449.22" cy="743.80" r="3.95" fill="#1f528b" stroke="#153f6e" stroke-width="0.6"/>
<circle cx="453.96" cy="743.80" r="3.95" fill="#1f528b" stroke="#153f6e" stroke-width="0.6"/>
<circle cx="458.70" cy="743.80" r="3.95" fill="#1f528b" stroke="#153f6e" stroke-width="0.6"/>
<circle cx="463.44" cy="743.80" r="3.95" fill="#1f528b" stroke="#153f6e" stroke-width="0.6"/>
<circle cx="468.18" cy="743.80" r="3.95" fill="#1f528b" stroke="#153f6e" stroke-width="0.6"/>
<circle cx="472.92" cy="743.80" r="3.95" fill="#1f528b" stroke="#153f6e" stroke-width="0.6"/>
<circle cx="477.66" cy="743.80" r="3.95" fill="#1f528b" stroke="#153f6e" stroke-width="0.6"/>
<circle cx="482.40" cy="743.80" r="3.95" fill="#1f528b" stroke="#153f6e" stroke-width="0.6"/>
<circle cx="440.80" cy="769.20" r="3.95" fill="#1f528b" stroke="#153f6e" stroke-width="0.6"/>
<circle cx="452.70" cy="769.20" r="3.95" fill="#1f528b" stroke="#153f6e" stroke-width="0.6"/>
<circle cx="464.60" cy="769.20" r="3.95" fill="#1f528b" stroke="#153f6e" stroke-width="0.6"/>
<circle cx="476.60" cy="769.20" r="3.95" fill="#1f528b" stroke="#153f6e" stroke-width="0.6"/>
<line x1="337.10" y1="744.00" x2="395.90" y2="744.00" stroke="#000" stroke-width="1.8"/>
<line x1="351.70" y1="718.20" x2="381.30" y2="718.20" stroke="#000" stroke-width="1.8"/>
<line x1="351.70" y1="769.10" x2="381.30" y2="769.10" stroke="#000" stroke-width="1.8"/>
<line x1="366.50" y1="718.20" x2="366.50" y2="769.10" stroke="#000" stroke-width="1.8"/>
<line x1="429.50" y1="719.20" x2="487.50" y2="719.20" stroke="#000" stroke-width="1.8"/>
<line x1="443.90" y1="693.60" x2="473.10" y2="693.60" stroke="#000" stroke-width="1.8"/>
<line x1="443.90" y1="743.80" x2="473.10" y2="743.80" stroke="#000" stroke-width="1.8"/>
<line x1="458.50" y1="693.60" x2="458.50" y2="743.80" stroke="#000" stroke-width="1.8"/>
<polyline points="367.7,607.8 367.7,604.2 457.4,604.2 457.4,607.8" fill="none" stroke="#000" stroke-width="1.5"/>
<text x="384.51" y="600.00" font-size="12.61" font-style="italic" textLength="8.58" lengthAdjust="spacingAndGlyphs">P</text>
<text x="395.55" y="601.03" font-size="16.44" textLength="9.87" lengthAdjust="spacingAndGlyphs">&lt;</text>
<text x="404.69" y="599.98" font-size="12.39" textLength="38.97" lengthAdjust="spacingAndGlyphs">0.0001</text>
<text x="10.55" y="862.30" font-size="18.12" font-weight="bold" textLength="15.03" lengthAdjust="spacingAndGlyphs" stroke="#000" stroke-width="0.6">D</text>
<circle cx="85.30" cy="873.30" r="31.10" fill="#bdbec3"/>
<circle cx="85.20" cy="879.10" r="25.30" fill="#c11b33" stroke="#d6e2e6" stroke-width="0.7"/>
<circle cx="85.20" cy="885.80" r="18.20" fill="#f8b81e"/>
<text x="81.10" y="852.70" font-size="13.77" textLength="8.83" lengthAdjust="spacingAndGlyphs">A</text>
<text x="80.33" y="865.70" font-size="13.48" textLength="9.72" lengthAdjust="spacingAndGlyphs">B</text>
<text x="79.95" y="881.16" font-size="14.23" textLength="10.80" lengthAdjust="spacingAndGlyphs">C</text>
<text x="127.00" y="861.75" font-size="13.41" textLength="108.99" lengthAdjust="spacingAndGlyphs">A=<tspan font-style="italic">DNMT3A</tspan> 46%</text>
<text x="125.85" y="881.25" font-size="13.41" textLength="104.15" lengthAdjust="spacingAndGlyphs">B=<tspan font-style="italic">PTPN11</tspan> 42%</text>
<text x="124.78" y="900.50" font-size="13.41" textLength="91.97" lengthAdjust="spacingAndGlyphs">C=<tspan font-style="italic">NPM1</tspan> 31%</text>
<circle cx="65.65" cy="924.80" r="6.95" fill="#bdbec3"/>
<circle cx="65.65" cy="924.80" r="5.80" fill="none" stroke="#dde1e4" stroke-width="0.6"/>
<circle cx="65.65" cy="924.80" r="6.95" fill="none" stroke="#000" stroke-width="1.6"/>
<circle cx="85.25" cy="923.70" r="6.95" fill="#fff" stroke="#000" stroke-width="1.6"/>
<circle cx="105.00" cy="923.70" r="6.95" fill="#fff" stroke="#000" stroke-width="1.6"/>
<circle cx="124.75" cy="923.70" r="6.95" fill="#fff" stroke="#000" stroke-width="1.6"/>
<circle cx="144.50" cy="923.70" r="6.95" fill="#fff" stroke="#000" stroke-width="1.6"/>
<circle cx="164.25" cy="923.70" r="6.95" fill="#fff" stroke="#000" stroke-width="1.6"/>
<circle cx="184.00" cy="923.70" r="6.95" fill="#fff" stroke="#000" stroke-width="1.6"/>
<circle cx="203.75" cy="923.70" r="6.95" fill="#fff" stroke="#000" stroke-width="1.6"/>
<circle cx="223.50" cy="923.70" r="6.95" fill="#fff" stroke="#000" stroke-width="1.6"/>
<circle cx="243.25" cy="923.70" r="6.95" fill="#fff" stroke="#000" stroke-width="1.6"/>
<path d="M65.50,943.43L65.50,950.38A6.95,6.95 0 0 1 65.50,936.48Z" fill="#bdbec3"/>
<path d="M65.50,943.43L65.50,936.48A6.95,6.95 0 0 1 65.50,950.38Z" fill="#c11b33"/>
<line x1="65.00" y1="936.48" x2="65.00" y2="950.38" stroke="#e4ecee" stroke-width="0.7"/>
<circle cx="65.50" cy="943.43" r="6.95" fill="none" stroke="#000" stroke-width="1.6"/>
<circle cx="85.40" cy="944.53" r="6.95" fill="#bdbec3"/>
<circle cx="85.40" cy="944.53" r="5.80" fill="none" stroke="#dde1e4" stroke-width="0.6"/>
<circle cx="85.40" cy="944.53" r="6.95" fill="none" stroke="#000" stroke-width="1.6"/>
<circle cx="105.00" cy="943.43" r="6.95" fill="#fff" stroke="#000" stroke-width="1.6"/>
<circle cx="124.75" cy="943.43" r="6.95" fill="#fff" stroke="#000" stroke-width="1.6"/>
<circle cx="144.50" cy="943.43" r="6.95" fill="#fff" stroke="#000" stroke-width="1.6"/>
<circle cx="164.25" cy="943.43" r="6.95" fill="#fff" stroke="#000" stroke-width="1.6"/>
<circle cx="184.00" cy="943.43" r="6.95" fill="#fff" stroke="#000" stroke-width="1.6"/>
<circle cx="203.75" cy="943.43" r="6.95" fill="#fff" stroke="#000" stroke-width="1.6"/>
<circle cx="223.50" cy="943.43" r="6.95" fill="#fff" stroke="#000" stroke-width="1.6"/>
<circle cx="243.25" cy="943.43" r="6.95" fill="#fff" stroke="#000" stroke-width="1.6"/>
<path d="M65.50,963.15L65.50,970.10A6.95,6.95 0 0 1 65.50,956.20Z" fill="#bdbec3"/>
<path d="M65.50,963.15L65.50,956.20A6.95,6.95 0 0 1 65.50,970.10Z" fill="#c11b33"/>
<line x1="65.00" y1="956.20" x2="65.00" y2="970.10" stroke="#e4ecee" stroke-width="0.7"/>
<circle cx="65.50" cy="963.15" r="6.95" fill="none" stroke="#000" stroke-width="1.6"/>
<path d="M85.25,963.15L85.25,970.10A6.95,6.95 0 0 1 85.25,956.20Z" fill="#bdbec3"/>
<path d="M85.25,963.15L85.25,956.20A6.95,6.95 0 0 1 85.25,970.10Z" fill="#c11b33"/>
<line x1="84.75" y1="956.20" x2="84.75" y2="970.10" stroke="#e4ecee" stroke-width="0.7"/>
<circle cx="85.25" cy="963.15" r="6.95" fill="none" stroke="#000" stroke-width="1.6"/>
<circle cx="105.15" cy="964.25" r="6.95" fill="#bdbec3"/>
<circle cx="105.15" cy="964.25" r="5.80" fill="none" stroke="#dde1e4" stroke-width="0.6"/>
<circle cx="105.15" cy="964.25" r="6.95" fill="none" stroke="#000" stroke-width="1.6"/>
<circle cx="124.75" cy="963.15" r="6.95" fill="#fff" stroke="#000" stroke-width="1.6"/>
<circle cx="144.50" cy="963.15" r="6.95" fill="#fff" stroke="#000" stroke-width="1.6"/>
<circle cx="164.25" cy="963.15" r="6.95" fill="#fff" stroke="#000" stroke-width="1.6"/>
<circle cx="184.00" cy="963.15" r="6.95" fill="#fff" stroke="#000" stroke-width="1.6"/>
<circle cx="203.75" cy="963.15" r="6.95" fill="#fff" stroke="#000" stroke-width="1.6"/>
<circle cx="223.50" cy="963.15" r="6.95" fill="#fff" stroke="#000" stroke-width="1.6"/>
<circle cx="243.25" cy="963.15" r="6.95" fill="#fff" stroke="#000" stroke-width="1.6"/>
<path d="M65.50,982.88L65.50,989.83A6.95,6.95 0 0 1 65.50,975.92Z" fill="#bdbec3"/>
<path d="M65.50,982.88L65.50,975.92A6.95,6.95 0 0 1 65.50,989.83Z" fill="#c11b33"/>
<line x1="65.00" y1="975.92" x2="65.00" y2="989.83" stroke="#e4ecee" stroke-width="0.7"/>
<circle cx="65.50" cy="982.88" r="6.95" fill="none" stroke="#000" stroke-width="1.6"/>
<path d="M85.25,982.88L85.25,989.83A6.95,6.95 0 0 1 85.25,975.92Z" fill="#bdbec3"/>
<path d="M85.25,982.88L85.25,975.92A6.95,6.95 0 0 1 85.25,989.83Z" fill="#c11b33"/>
<line x1="84.75" y1="975.92" x2="84.75" y2="989.83" stroke="#e4ecee" stroke-width="0.7"/>
<circle cx="85.25" cy="982.88" r="6.95" fill="none" stroke="#000" stroke-width="1.6"/>
<path d="M105.00,982.88L105.00,989.83A6.95,6.95 0 0 1 105.00,975.92Z" fill="#bdbec3"/>
<path d="M105.00,982.88L105.00,975.92A6.95,6.95 0 0 1 105.00,989.83Z" fill="#c11b33"/>
<line x1="104.50" y1="975.92" x2="104.50" y2="989.83" stroke="#e4ecee" stroke-width="0.7"/>
<circle cx="105.00" cy="982.88" r="6.95" fill="none" stroke="#000" stroke-width="1.6"/>
<circle cx="124.90" cy="983.98" r="6.95" fill="#bdbec3"/>
<circle cx="124.90" cy="983.98" r="5.80" fill="none" stroke="#dde1e4" stroke-width="0.6"/>
<circle cx="124.90" cy="983.98" r="6.95" fill="none" stroke="#000" stroke-width="1.6"/>
<circle cx="144.50" cy="982.88" r="6.95" fill="#fff" stroke="#000" stroke-width="1.6"/>
<circle cx="164.25" cy="982.88" r="6.95" fill="#fff" stroke="#000" stroke-width="1.6"/>
<circle cx="184.00" cy="982.88" r="6.95" fill="#fff" stroke="#000" stroke-width="1.6"/>
<circle cx="203.75" cy="982.88" r="6.95" fill="#fff" stroke="#000" stroke-width="1.6"/>
<circle cx="223.50" cy="982.88" r="6.95" fill="#fff" stroke="#000" stroke-width="1.6"/>
<circle cx="243.25" cy="982.88" r="6.95" fill="#fff" stroke="#000" stroke-width="1.6"/>
<path d="M65.50,1002.60L65.50,1009.55A6.95,6.95 0 0 1 65.50,995.65Z" fill="#bdbec3"/>
<path d="M65.50,1002.60L65.50,995.65A6.95,6.95 0 0 1 65.50,1009.55Z" fill="#c11b33"/>
<line x1="65.00" y1="995.65" x2="65.00" y2="1009.55" stroke="#e4ecee" stroke-width="0.7"/>
<circle cx="65.50" cy="1002.60" r="6.95" fill="none" stroke="#000" stroke-width="1.6"/>
<path d="M85.25,1002.60L85.25,1009.55A6.95,6.95 0 0 1 85.25,995.65Z" fill="#bdbec3"/>
<path d="M85.25,1002.60L85.25,995.65A6.95,6.95 0 0 1 85.25,1009.55Z" fill="#c11b33"/>
<line x1="84.75" y1="995.65" x2="84.75" y2="1009.55" stroke="#e4ecee" stroke-width="0.7"/>
<circle cx="85.25" cy="1002.60" r="6.95" fill="none" stroke="#000" stroke-width="1.6"/>
<path d="M105.00,1002.60L105.00,1009.55A6.95,6.95 0 0 1 105.00,995.65Z" fill="#bdbec3"/>
<path d="M105.00,1002.60L105.00,995.65A6.95,6.95 0 0 1 105.00,1009.55Z" fill="#c11b33"/>
<line x1="104.50" y1="995.65" x2="104.50" y2="1009.55" stroke="#e4ecee" stroke-width="0.7"/>
<circle cx="105.00" cy="1002.60" r="6.95" fill="none" stroke="#000" stroke-width="1.6"/>
<path d="M124.75,1002.60L124.75,1009.55A6.95,6.95 0 0 1 124.75,995.65Z" fill="#bdbec3"/>
<path d="M124.75,1002.60L124.75,995.65A6.95,6.95 0 0 1 124.75,1009.55Z" fill="#c11b33"/>
<line x1="124.25" y1="995.65" x2="124.25" y2="1009.55" stroke="#e4ecee" stroke-width="0.7"/>
<circle cx="124.75" cy="1002.60" r="6.95" fill="none" stroke="#000" stroke-width="1.6"/>
<circle cx="144.65" cy="1003.70" r="6.95" fill="#bdbec3"/>
<circle cx="144.65" cy="1003.70" r="5.80" fill="none" stroke="#dde1e4" stroke-width="0.6"/>
<circle cx="144.65" cy="1003.70" r="6.95" fill="none" stroke="#000" stroke-width="1.6"/>
<circle cx="164.25" cy="1002.60" r="6.95" fill="#fff" stroke="#000" stroke-width="1.6"/>
<circle cx="184.00" cy="1002.60" r="6.95" fill="#fff" stroke="#000" stroke-width="1.6"/>
<circle cx="203.75" cy="1002.60" r="6.95" fill="#fff" stroke="#000" stroke-width="1.6"/>
<circle cx="223.50" cy="1002.60" r="6.95" fill="#fff" stroke="#000" stroke-width="1.6"/>
<circle cx="243.25" cy="1002.60" r="6.95" fill="#fff" stroke="#000" stroke-width="1.6"/>
<path d="M65.50,1022.33L65.50,1029.28A6.95,6.95 0 0 1 65.50,1015.38Z" fill="#bdbec3"/>
<path d="M65.50,1022.33L65.50,1015.38A6.95,6.95 0 0 1 65.50,1029.28Z" fill="#c11b33"/>
<line x1="65.00" y1="1015.38" x2="65.00" y2="1029.28" stroke="#e4ecee" stroke-width="0.7"/>
<circle cx="65.50" cy="1022.33" r="6.95" fill="none" stroke="#000" stroke-width="1.6"/>
<path d="M85.25,1022.33L85.25,1029.28A6.95,6.95 0 0 1 85.25,1015.38Z" fill="#bdbec3"/>
<path d="M85.25,1022.33L85.25,1015.38A6.95,6.95 0 0 1 85.25,1029.28Z" fill="#c11b33"/>
<line x1="84.75" y1="1015.38" x2="84.75" y2="1029.28" stroke="#e4ecee" stroke-width="0.7"/>
<circle cx="85.25" cy="1022.33" r="6.95" fill="none" stroke="#000" stroke-width="1.6"/>
<path d="M105.00,1022.33L105.00,1029.28A6.95,6.95 0 0 1 105.00,1015.38Z" fill="#bdbec3"/>
<path d="M105.00,1022.33L105.00,1015.38A6.95,6.95 0 0 1 105.00,1029.28Z" fill="#c11b33"/>
<line x1="104.50" y1="1015.38" x2="104.50" y2="1029.28" stroke="#e4ecee" stroke-width="0.7"/>
<circle cx="105.00" cy="1022.33" r="6.95" fill="none" stroke="#000" stroke-width="1.6"/>
<path d="M124.75,1022.33L124.75,1029.28A6.95,6.95 0 0 1 124.75,1015.38Z" fill="#bdbec3"/>
<path d="M124.75,1022.33L124.75,1015.38A6.95,6.95 0 0 1 124.75,1029.28Z" fill="#c11b33"/>
<line x1="124.25" y1="1015.38" x2="124.25" y2="1029.28" stroke="#e4ecee" stroke-width="0.7"/>
<circle cx="124.75" cy="1022.33" r="6.95" fill="none" stroke="#000" stroke-width="1.6"/>
<path d="M144.50,1022.33L144.50,1029.28A6.95,6.95 0 0 1 144.50,1015.38Z" fill="#bdbec3"/>
<path d="M144.50,1022.33L144.50,1015.38A6.95,6.95 0 0 1 144.50,1029.28Z" fill="#c11b33"/>
<line x1="144.00" y1="1015.38" x2="144.00" y2="1029.28" stroke="#e4ecee" stroke-width="0.7"/>
<circle cx="144.50" cy="1022.33" r="6.95" fill="none" stroke="#000" stroke-width="1.6"/>
<circle cx="164.40" cy="1023.43" r="6.95" fill="#bdbec3"/>
<circle cx="164.40" cy="1023.43" r="5.80" fill="none" stroke="#dde1e4" stroke-width="0.6"/>
<circle cx="164.40" cy="1023.43" r="6.95" fill="none" stroke="#000" stroke-width="1.6"/>
<circle cx="184.00" cy="1022.33" r="6.95" fill="#fff" stroke="#000" stroke-width="1.6"/>
<circle cx="203.75" cy="1022.33" r="6.95" fill="#fff" stroke="#000" stroke-width="1.6"/>
<circle cx="223.50" cy="1022.33" r="6.95" fill="#fff" stroke="#000" stroke-width="1.6"/>
<circle cx="243.25" cy="1022.33" r="6.95" fill="#fff" stroke="#000" stroke-width="1.6"/>
<path d="M65.50,1042.05L59.48,1045.52A6.95,6.95 0 0 1 65.50,1035.10Z" fill="#bdbec3"/>
<path d="M65.50,1042.05L65.50,1035.10A6.95,6.95 0 0 1 71.52,1045.52Z" fill="#c11b33"/>
<path d="M65.50,1042.05L71.52,1045.52A6.95,6.95 0 0 1 59.48,1045.52Z" fill="#f8b81e"/>
<line x1="65.50" y1="1042.05" x2="65.50" y2="1035.10" stroke="#e4ecee" stroke-width="0.7"/>
<line x1="65.50" y1="1042.05" x2="71.52" y2="1045.52" stroke="#e4ecee" stroke-width="0.7"/>
<line x1="65.50" y1="1042.05" x2="59.48" y2="1045.52" stroke="#e4ecee" stroke-width="0.7"/>
<circle cx="65.50" cy="1042.05" r="6.95" fill="none" stroke="#000" stroke-width="1.6"/>
<path d="M85.25,1042.05L85.25,1049.00A6.95,6.95 0 0 1 85.25,1035.10Z" fill="#bdbec3"/>
<path d="M85.25,1042.05L85.25,1035.10A6.95,6.95 0 0 1 85.25,1049.00Z" fill="#c11b33"/>
<line x1="84.75" y1="1035.10" x2="84.75" y2="1049.00" stroke="#e4ecee" stroke-width="0.7"/>
<circle cx="85.25" cy="1042.05" r="6.95" fill="none" stroke="#000" stroke-width="1.6"/>
<path d="M105.00,1042.05L105.00,1049.00A6.95,6.95 0 0 1 105.00,1035.10Z" fill="#bdbec3"/>
<path d="M105.00,1042.05L105.00,1035.10A6.95,6.95 0 0 1 105.00,1049.00Z" fill="#c11b33"/>
<line x1="104.50" y1="1035.10" x2="104.50" y2="1049.00" stroke="#e4ecee" stroke-width="0.7"/>
<circle cx="105.00" cy="1042.05" r="6.95" fill="none" stroke="#000" stroke-width="1.6"/>
<path d="M124.75,1042.05L124.75,1049.00A6.95,6.95 0 0 1 124.75,1035.10Z" fill="#bdbec3"/>
<path d="M124.75,1042.05L124.75,1035.10A6.95,6.95 0 0 1 124.75,1049.00Z" fill="#c11b33"/>
<line x1="124.25" y1="1035.10" x2="124.25" y2="1049.00" stroke="#e4ecee" stroke-width="0.7"/>
<circle cx="124.75" cy="1042.05" r="6.95" fill="none" stroke="#000" stroke-width="1.6"/>
<path d="M144.50,1042.05L144.50,1049.00A6.95,6.95 0 0 1 144.50,1035.10Z" fill="#bdbec3"/>
<path d="M144.50,1042.05L144.50,1035.10A6.95,6.95 0 0 1 144.50,1049.00Z" fill="#c11b33"/>
<line x1="144.00" y1="1035.10" x2="144.00" y2="1049.00" stroke="#e4ecee" stroke-width="0.7"/>
<circle cx="144.50" cy="1042.05" r="6.95" fill="none" stroke="#000" stroke-width="1.6"/>
<path d="M164.25,1042.05L164.25,1049.00A6.95,6.95 0 0 1 164.25,1035.10Z" fill="#bdbec3"/>
<path d="M164.25,1042.05L164.25,1035.10A6.95,6.95 0 0 1 164.25,1049.00Z" fill="#c11b33"/>
<line x1="163.75" y1="1035.10" x2="163.75" y2="1049.00" stroke="#e4ecee" stroke-width="0.7"/>
<circle cx="164.25" cy="1042.05" r="6.95" fill="none" stroke="#000" stroke-width="1.6"/>
<circle cx="184.15" cy="1043.15" r="6.95" fill="#bdbec3"/>
<circle cx="184.15" cy="1043.15" r="5.80" fill="none" stroke="#dde1e4" stroke-width="0.6"/>
<circle cx="184.15" cy="1043.15" r="6.95" fill="none" stroke="#000" stroke-width="1.6"/>
<circle cx="203.75" cy="1042.05" r="6.95" fill="#fff" stroke="#000" stroke-width="1.6"/>
<circle cx="223.50" cy="1042.05" r="6.95" fill="#fff" stroke="#000" stroke-width="1.6"/>
<circle cx="243.25" cy="1042.05" r="6.95" fill="#fff" stroke="#000" stroke-width="1.6"/>
<path d="M65.50,1061.78L59.48,1065.25A6.95,6.95 0 0 1 65.50,1054.83Z" fill="#bdbec3"/>
<path d="M65.50,1061.78L65.50,1054.83A6.95,6.95 0 0 1 71.52,1065.25Z" fill="#c11b33"/>
<path d="M65.50,1061.78L71.52,1065.25A6.95,6.95 0 0 1 59.48,1065.25Z" fill="#f8b81e"/>
<line x1="65.50" y1="1061.78" x2="65.50" y2="1054.83" stroke="#e4ecee" stroke-width="0.7"/>
<line x1="65.50" y1="1061.78" x2="71.52" y2="1065.25" stroke="#e4ecee" stroke-width="0.7"/>
<line x1="65.50" y1="1061.78" x2="59.48" y2="1065.25" stroke="#e4ecee" stroke-width="0.7"/>
<circle cx="65.50" cy="1061.78" r="6.95" fill="none" stroke="#000" stroke-width="1.6"/>
<path d="M85.25,1061.78L79.23,1065.25A6.95,6.95 0 0 1 85.25,1054.83Z" fill="#bdbec3"/>
<path d="M85.25,1061.78L85.25,1054.83A6.95,6.95 0 0 1 91.27,1065.25Z" fill="#c11b33"/>
<path d="M85.25,1061.78L91.27,1065.25A6.95,6.95 0 0 1 79.23,1065.25Z" fill="#f8b81e"/>
<line x1="85.25" y1="1061.78" x2="85.25" y2="1054.83" stroke="#e4ecee" stroke-width="0.7"/>
<line x1="85.25" y1="1061.78" x2="91.27" y2="1065.25" stroke="#e4ecee" stroke-width="0.7"/>
<line x1="85.25" y1="1061.78" x2="79.23" y2="1065.25" stroke="#e4ecee" stroke-width="0.7"/>
<circle cx="85.25" cy="1061.78" r="6.95" fill="none" stroke="#000" stroke-width="1.6"/>
<path d="M105.00,1061.78L105.00,1068.73A6.95,6.95 0 0 1 105.00,1054.83Z" fill="#bdbec3"/>
<path d="M105.00,1061.78L105.00,1054.83A6.95,6.95 0 0 1 105.00,1068.73Z" fill="#c11b33"/>
<line x1="104.50" y1="1054.83" x2="104.50" y2="1068.73" stroke="#e4ecee" stroke-width="0.7"/>
<circle cx="105.00" cy="1061.78" r="6.95" fill="none" stroke="#000" stroke-width="1.6"/>
<path d="M124.75,1061.78L124.75,1068.73A6.95,6.95 0 0 1 124.75,1054.83Z" fill="#bdbec3"/>
<path d="M124.75,1061.78L124.75,1054.83A6.95,6.95 0 0 1 124.75,1068.73Z" fill="#c11b33"/>
<line x1="124.25" y1="1054.83" x2="124.25" y2="1068.73" stroke="#e4ecee" stroke-width="0.7"/>
<circle cx="124.75" cy="1061.78" r="6.95" fill="none" stroke="#000" stroke-width="1.6"/>
<path d="M144.50,1061.78L144.50,1068.73A6.95,6.95 0 0 1 144.50,1054.83Z" fill="#bdbec3"/>
<path d="M144.50,1061.78L144.50,1054.83A6.95,6.95 0 0 1 144.50,1068.73Z" fill="#c11b33"/>
<line x1="144.00" y1="1054.83" x2="144.00" y2="1068.73" stroke="#e4ecee" stroke-width="0.7"/>
<circle cx="144.50" cy="1061.78" r="6.95" fill="none" stroke="#000" stroke-width="1.6"/>
<path d="M164.25,1061.78L164.25,1068.73A6.95,6.95 0 0 1 164.25,1054.83Z" fill="#bdbec3"/>
<path d="M164.25,1061.78L164.25,1054.83A6.95,6.95 0 0 1 164.25,1068.73Z" fill="#c11b33"/>
<line x1="163.75" y1="1054.83" x2="163.75" y2="1068.73" stroke="#e4ecee" stroke-width="0.7"/>
<circle cx="164.25" cy="1061.78" r="6.95" fill="none" stroke="#000" stroke-width="1.6"/>
<path d="M184.00,1061.78L184.00,1068.73A6.95,6.95 0 0 1 184.00,1054.83Z" fill="#bdbec3"/>
<path d="M184.00,1061.78L184.00,1054.83A6.95,6.95 0 0 1 184.00,1068.73Z" fill="#c11b33"/>
<line x1="183.50" y1="1054.83" x2="183.50" y2="1068.73" stroke="#e4ecee" stroke-width="0.7"/>
<circle cx="184.00" cy="1061.78" r="6.95" fill="none" stroke="#000" stroke-width="1.6"/>
<circle cx="203.90" cy="1062.88" r="6.95" fill="#bdbec3"/>
<circle cx="203.90" cy="1062.88" r="5.80" fill="none" stroke="#dde1e4" stroke-width="0.6"/>
<circle cx="203.90" cy="1062.88" r="6.95" fill="none" stroke="#000" stroke-width="1.6"/>
<circle cx="223.50" cy="1061.78" r="6.95" fill="#fff" stroke="#000" stroke-width="1.6"/>
<circle cx="243.25" cy="1061.78" r="6.95" fill="#fff" stroke="#000" stroke-width="1.6"/>
<path d="M65.50,1081.50L59.48,1084.97A6.95,6.95 0 0 1 65.50,1074.55Z" fill="#bdbec3"/>
<path d="M65.50,1081.50L65.50,1074.55A6.95,6.95 0 0 1 71.52,1084.97Z" fill="#c11b33"/>
<path d="M65.50,1081.50L71.52,1084.97A6.95,6.95 0 0 1 59.48,1084.97Z" fill="#f8b81e"/>
<line x1="65.50" y1="1081.50" x2="65.50" y2="1074.55" stroke="#e4ecee" stroke-width="0.7"/>
<line x1="65.50" y1="1081.50" x2="71.52" y2="1084.97" stroke="#e4ecee" stroke-width="0.7"/>
<line x1="65.50" y1="1081.50" x2="59.48" y2="1084.97" stroke="#e4ecee" stroke-width="0.7"/>
<circle cx="65.50" cy="1081.50" r="6.95" fill="none" stroke="#000" stroke-width="1.6"/>
<path d="M85.25,1081.50L79.23,1084.97A6.95,6.95 0 0 1 85.25,1074.55Z" fill="#bdbec3"/>
<path d="M85.25,1081.50L85.25,1074.55A6.95,6.95 0 0 1 91.27,1084.97Z" fill="#c11b33"/>
<path d="M85.25,1081.50L91.27,1084.97A6.95,6.95 0 0 1 79.23,1084.97Z" fill="#f8b81e"/>
<line x1="85.25" y1="1081.50" x2="85.25" y2="1074.55" stroke="#e4ecee" stroke-width="0.7"/>
<line x1="85.25" y1="1081.50" x2="91.27" y2="1084.97" stroke="#e4ecee" stroke-width="0.7"/>
<line x1="85.25" y1="1081.50" x2="79.23" y2="1084.97" stroke="#e4ecee" stroke-width="0.7"/>
<circle cx="85.25" cy="1081.50" r="6.95" fill="none" stroke="#000" stroke-width="1.6"/>
<path d="M105.00,1081.50L98.98,1084.97A6.95,6.95 0 0 1 105.00,1074.55Z" fill="#bdbec3"/>
<path d="M105.00,1081.50L105.00,1074.55A6.95,6.95 0 0 1 111.02,1084.97Z" fill="#c11b33"/>
<path d="M105.00,1081.50L111.02,1084.97A6.95,6.95 0 0 1 98.98,1084.97Z" fill="#f8b81e"/>
<line x1="105.00" y1="1081.50" x2="105.00" y2="1074.55" stroke="#e4ecee" stroke-width="0.7"/>
<line x1="105.00" y1="1081.50" x2="111.02" y2="1084.97" stroke="#e4ecee" stroke-width="0.7"/>
<line x1="105.00" y1="1081.50" x2="98.98" y2="1084.97" stroke="#e4ecee" stroke-width="0.7"/>
<circle cx="105.00" cy="1081.50" r="6.95" fill="none" stroke="#000" stroke-width="1.6"/>
<path d="M124.75,1081.50L124.75,1088.45A6.95,6.95 0 0 1 124.75,1074.55Z" fill="#bdbec3"/>
<path d="M124.75,1081.50L124.75,1074.55A6.95,6.95 0 0 1 124.75,1088.45Z" fill="#c11b33"/>
<line x1="124.25" y1="1074.55" x2="124.25" y2="1088.45" stroke="#e4ecee" stroke-width="0.7"/>
<circle cx="124.75" cy="1081.50" r="6.95" fill="none" stroke="#000" stroke-width="1.6"/>
<path d="M144.50,1081.50L144.50,1088.45A6.95,6.95 0 0 1 144.50,1074.55Z" fill="#bdbec3"/>
<path d="M144.50,1081.50L144.50,1074.55A6.95,6.95 0 0 1 144.50,1088.45Z" fill="#c11b33"/>
<line x1="144.00" y1="1074.55" x2="144.00" y2="1088.45" stroke="#e4ecee" stroke-width="0.7"/>
<circle cx="144.50" cy="1081.50" r="6.95" fill="none" stroke="#000" stroke-width="1.6"/>
<path d="M164.25,1081.50L164.25,1088.45A6.95,6.95 0 0 1 164.25,1074.55Z" fill="#bdbec3"/>
<path d="M164.25,1081.50L164.25,1074.55A6.95,6.95 0 0 1 164.25,1088.45Z" fill="#c11b33"/>
<line x1="163.75" y1="1074.55" x2="163.75" y2="1088.45" stroke="#e4ecee" stroke-width="0.7"/>
<circle cx="164.25" cy="1081.50" r="6.95" fill="none" stroke="#000" stroke-width="1.6"/>
<path d="M184.00,1081.50L184.00,1088.45A6.95,6.95 0 0 1 184.00,1074.55Z" fill="#bdbec3"/>
<path d="M184.00,1081.50L184.00,1074.55A6.95,6.95 0 0 1 184.00,1088.45Z" fill="#c11b33"/>
<line x1="183.50" y1="1074.55" x2="183.50" y2="1088.45" stroke="#e4ecee" stroke-width="0.7"/>
<circle cx="184.00" cy="1081.50" r="6.95" fill="none" stroke="#000" stroke-width="1.6"/>
<path d="M203.75,1081.50L203.75,1088.45A6.95,6.95 0 0 1 203.75,1074.55Z" fill="#bdbec3"/>
<path d="M203.75,1081.50L203.75,1074.55A6.95,6.95 0 0 1 203.75,1088.45Z" fill="#c11b33"/>
<line x1="203.25" y1="1074.55" x2="203.25" y2="1088.45" stroke="#e4ecee" stroke-width="0.7"/>
<circle cx="203.75" cy="1081.50" r="6.95" fill="none" stroke="#000" stroke-width="1.6"/>
<circle cx="223.65" cy="1082.60" r="6.95" fill="#bdbec3"/>
<circle cx="223.65" cy="1082.60" r="5.80" fill="none" stroke="#dde1e4" stroke-width="0.6"/>
<circle cx="223.65" cy="1082.60" r="6.95" fill="none" stroke="#000" stroke-width="1.6"/>
<circle cx="243.25" cy="1081.50" r="6.95" fill="#fff" stroke="#000" stroke-width="1.6"/>
<path d="M65.50,1101.23L59.48,1104.70A6.95,6.95 0 0 1 65.50,1094.28Z" fill="#bdbec3"/>
<path d="M65.50,1101.23L65.50,1094.28A6.95,6.95 0 0 1 71.52,1104.70Z" fill="#c11b33"/>
<path d="M65.50,1101.23L71.52,1104.70A6.95,6.95 0 0 1 59.48,1104.70Z" fill="#f8b81e"/>
<line x1="65.50" y1="1101.23" x2="65.50" y2="1094.28" stroke="#e4ecee" stroke-width="0.7"/>
<line x1="65.50" y1="1101.23" x2="71.52" y2="1104.70" stroke="#e4ecee" stroke-width="0.7"/>
<line x1="65.50" y1="1101.23" x2="59.48" y2="1104.70" stroke="#e4ecee" stroke-width="0.7"/>
<circle cx="65.50" cy="1101.23" r="6.95" fill="none" stroke="#000" stroke-width="1.6"/>
<path d="M85.25,1101.23L79.23,1104.70A6.95,6.95 0 0 1 85.25,1094.28Z" fill="#bdbec3"/>
<path d="M85.25,1101.23L85.25,1094.28A6.95,6.95 0 0 1 91.27,1104.70Z" fill="#c11b33"/>
<path d="M85.25,1101.23L91.27,1104.70A6.95,6.95 0 0 1 79.23,1104.70Z" fill="#f8b81e"/>
<line x1="85.25" y1="1101.23" x2="85.25" y2="1094.28" stroke="#e4ecee" stroke-width="0.7"/>
<line x1="85.25" y1="1101.23" x2="91.27" y2="1104.70" stroke="#e4ecee" stroke-width="0.7"/>
<line x1="85.25" y1="1101.23" x2="79.23" y2="1104.70" stroke="#e4ecee" stroke-width="0.7"/>
<circle cx="85.25" cy="1101.23" r="6.95" fill="none" stroke="#000" stroke-width="1.6"/>
<path d="M105.00,1101.23L98.98,1104.70A6.95,6.95 0 0 1 105.00,1094.28Z" fill="#bdbec3"/>
<path d="M105.00,1101.23L105.00,1094.28A6.95,6.95 0 0 1 111.02,1104.70Z" fill="#c11b33"/>
<path d="M105.00,1101.23L111.02,1104.70A6.95,6.95 0 0 1 98.98,1104.70Z" fill="#f8b81e"/>
<line x1="105.00" y1="1101.23" x2="105.00" y2="1094.28" stroke="#e4ecee" stroke-width="0.7"/>
<line x1="105.00" y1="1101.23" x2="111.02" y2="1104.70" stroke="#e4ecee" stroke-width="0.7"/>
<line x1="105.00" y1="1101.23" x2="98.98" y2="1104.70" stroke="#e4ecee" stroke-width="0.7"/>
<circle cx="105.00" cy="1101.23" r="6.95" fill="none" stroke="#000" stroke-width="1.6"/>
<path d="M124.75,1101.23L118.73,1104.70A6.95,6.95 0 0 1 124.75,1094.28Z" fill="#bdbec3"/>
<path d="M124.75,1101.23L124.75,1094.28A6.95,6.95 0 0 1 130.77,1104.70Z" fill="#c11b33"/>
<path d="M124.75,1101.23L130.77,1104.70A6.95,6.95 0 0 1 118.73,1104.70Z" fill="#f8b81e"/>
<line x1="124.75" y1="1101.23" x2="124.75" y2="1094.28" stroke="#e4ecee" stroke-width="0.7"/>
<line x1="124.75" y1="1101.23" x2="130.77" y2="1104.70" stroke="#e4ecee" stroke-width="0.7"/>
<line x1="124.75" y1="1101.23" x2="118.73" y2="1104.70" stroke="#e4ecee" stroke-width="0.7"/>
<circle cx="124.75" cy="1101.23" r="6.95" fill="none" stroke="#000" stroke-width="1.6"/>
<path d="M144.50,1101.23L144.50,1108.18A6.95,6.95 0 0 1 144.50,1094.28Z" fill="#bdbec3"/>
<path d="M144.50,1101.23L144.50,1094.28A6.95,6.95 0 0 1 144.50,1108.18Z" fill="#c11b33"/>
<line x1="144.00" y1="1094.28" x2="144.00" y2="1108.18" stroke="#e4ecee" stroke-width="0.7"/>
<circle cx="144.50" cy="1101.23" r="6.95" fill="none" stroke="#000" stroke-width="1.6"/>
<path d="M164.25,1101.23L164.25,1108.18A6.95,6.95 0 0 1 164.25,1094.28Z" fill="#bdbec3"/>
<path d="M164.25,1101.23L164.25,1094.28A6.95,6.95 0 0 1 164.25,1108.18Z" fill="#c11b33"/>
<line x1="163.75" y1="1094.28" x2="163.75" y2="1108.18" stroke="#e4ecee" stroke-width="0.7"/>
<circle cx="164.25" cy="1101.23" r="6.95" fill="none" stroke="#000" stroke-width="1.6"/>
<path d="M184.00,1101.23L184.00,1108.18A6.95,6.95 0 0 1 184.00,1094.28Z" fill="#bdbec3"/>
<path d="M184.00,1101.23L184.00,1094.28A6.95,6.95 0 0 1 184.00,1108.18Z" fill="#c11b33"/>
<line x1="183.50" y1="1094.28" x2="183.50" y2="1108.18" stroke="#e4ecee" stroke-width="0.7"/>
<circle cx="184.00" cy="1101.23" r="6.95" fill="none" stroke="#000" stroke-width="1.6"/>
<path d="M203.75,1101.23L203.75,1108.18A6.95,6.95 0 0 1 203.75,1094.28Z" fill="#bdbec3"/>
<path d="M203.75,1101.23L203.75,1094.28A6.95,6.95 0 0 1 203.75,1108.18Z" fill="#c11b33"/>
<line x1="203.25" y1="1094.28" x2="203.25" y2="1108.18" stroke="#e4ecee" stroke-width="0.7"/>
<circle cx="203.75" cy="1101.23" r="6.95" fill="none" stroke="#000" stroke-width="1.6"/>
<path d="M223.50,1101.23L223.50,1108.18A6.95,6.95 0 0 1 223.50,1094.28Z" fill="#bdbec3"/>
<path d="M223.50,1101.23L223.50,1094.28A6.95,6.95 0 0 1 223.50,1108.18Z" fill="#c11b33"/>
<line x1="223.00" y1="1094.28" x2="223.00" y2="1108.18" stroke="#e4ecee" stroke-width="0.7"/>
<circle cx="223.50" cy="1101.23" r="6.95" fill="none" stroke="#000" stroke-width="1.6"/>
<circle cx="243.40" cy="1102.33" r="6.95" fill="#bdbec3"/>
<circle cx="243.40" cy="1102.33" r="5.80" fill="none" stroke="#dde1e4" stroke-width="0.6"/>
<circle cx="243.40" cy="1102.33" r="6.95" fill="none" stroke="#000" stroke-width="1.6"/>
<line x1="61.30" y1="1119.30" x2="127.00" y2="1119.30" stroke="#000" stroke-width="1.6"/>
<line x1="141.30" y1="1119.30" x2="227.50" y2="1119.30" stroke="#000" stroke-width="1.6"/>
<line x1="240.00" y1="1119.30" x2="251.30" y2="1119.30" stroke="#000" stroke-width="1.6"/>
<text x="13.07" y="1140.37" font-size="12.59" textLength="35.58" lengthAdjust="spacingAndGlyphs">Clone</text>
<text x="80.50" y="1142.37" font-size="13.38" textLength="30.03" lengthAdjust="spacingAndGlyphs">ABC</text>
<text x="174.25" y="1140.50" font-size="13.41" textLength="17.72" lengthAdjust="spacingAndGlyphs">AB</text>
<text x="240.00" y="1140.50" font-size="13.41" textLength="8.78" lengthAdjust="spacingAndGlyphs">A</text>
<text transform="translate(25.04,1013.20) rotate(-90)" x="0" y="0" font-size="16.19" textLength="48.32" lengthAdjust="spacingAndGlyphs" stroke="#000" stroke-width="0.5">Dominant</text>
<text transform="translate(25.20,1056.00) rotate(-90)" x="0" y="0" font-size="17.25" textLength="37.26" lengthAdjust="spacingAndGlyphs" stroke="#000" stroke-width="0.5">PTPN11</text>
<text x="271.75" y="862.60" font-size="19.71" font-weight="bold" textLength="12.87" lengthAdjust="spacingAndGlyphs" stroke="#000" stroke-width="0.6">E</text>
<circle cx="328.30" cy="873.30" r="32.40" fill="#bdbec3"/>
<circle cx="328.60" cy="880.20" r="25.60" fill="#f8b81e" stroke="#d6e2e6" stroke-width="0.6"/>
<circle cx="328.20" cy="886.00" r="19.70" fill="#3cb04a"/>
<circle cx="329.30" cy="891.50" r="13.80" fill="#17508a"/>
<text x="323.40" y="851.80" font-size="14.20" textLength="8.63" lengthAdjust="spacingAndGlyphs">A</text>
<text x="323.15" y="864.80" font-size="12.90" textLength="9.60" lengthAdjust="spacingAndGlyphs">B</text>
<text x="322.64" y="877.06" font-size="14.23" textLength="11.03" lengthAdjust="spacingAndGlyphs">C</text>
<text x="322.92" y="890.80" font-size="12.90" textLength="9.71" lengthAdjust="spacingAndGlyphs">D</text>
<text x="381.25" y="850.75" font-size="12.68" textLength="109.24" lengthAdjust="spacingAndGlyphs">A=<tspan font-style="italic">DNMT3A</tspan> 43%</text>
<text x="380.07" y="869.25" font-size="13.41" textLength="92.93" lengthAdjust="spacingAndGlyphs">B=<tspan font-style="italic">NPM1</tspan> 36%</text>
<text x="380.02" y="887.00" font-size="13.04" textLength="92.47" lengthAdjust="spacingAndGlyphs">C=<tspan font-style="italic">NRAS</tspan> 21%</text>
<text x="380.09" y="905.50" font-size="13.41" textLength="105.40" lengthAdjust="spacingAndGlyphs">D=<tspan font-style="italic">PTPN11</tspan> 16%</text>
<circle cx="321.95" cy="924.60" r="6.95" fill="#bdbec3"/>
<circle cx="321.95" cy="924.60" r="5.80" fill="none" stroke="#dde1e4" stroke-width="0.6"/>
<circle cx="321.95" cy="924.60" r="6.95" fill="none" stroke="#000" stroke-width="1.6"/>
<circle cx="341.55" cy="923.50" r="6.95" fill="#fff" stroke="#000" stroke-width="1.6"/>
<circle cx="361.30" cy="923.50" r="6.95" fill="#fff" stroke="#000" stroke-width="1.6"/>
<circle cx="381.05" cy="923.50" r="6.95" fill="#fff" stroke="#000" stroke-width="1.6"/>
<circle cx="400.80" cy="923.50" r="6.95" fill="#fff" stroke="#000" stroke-width="1.6"/>
<circle cx="420.55" cy="923.50" r="6.95" fill="#fff" stroke="#000" stroke-width="1.6"/>
<circle cx="440.30" cy="923.50" r="6.95" fill="#fff" stroke="#000" stroke-width="1.6"/>
<circle cx="460.05" cy="923.50" r="6.95" fill="#fff" stroke="#000" stroke-width="1.6"/>
<circle cx="479.80" cy="923.50" r="6.95" fill="#fff" stroke="#000" stroke-width="1.6"/>
<circle cx="499.55" cy="923.50" r="6.95" fill="#fff" stroke="#000" stroke-width="1.6"/>
<path d="M321.80,943.30L321.80,950.25A6.95,6.95 0 0 1 321.80,936.35Z" fill="#bdbec3"/>
<path d="M321.80,943.30L321.80,936.35A6.95,6.95 0 0 1 321.80,950.25Z" fill="#f8b81e"/>
<line x1="321.30" y1="936.35" x2="321.30" y2="950.25" stroke="#e4ecee" stroke-width="0.7"/>
<circle cx="321.80" cy="943.30" r="6.95" fill="none" stroke="#000" stroke-width="1.6"/>
<circle cx="341.70" cy="944.40" r="6.95" fill="#bdbec3"/>
<circle cx="341.70" cy="944.40" r="5.80" fill="none" stroke="#dde1e4" stroke-width="0.6"/>
<circle cx="341.70" cy="944.40" r="6.95" fill="none" stroke="#000" stroke-width="1.6"/>
<circle cx="361.30" cy="943.30" r="6.95" fill="#fff" stroke="#000" stroke-width="1.6"/>
<circle cx="381.05" cy="943.30" r="6.95" fill="#fff" stroke="#000" stroke-width="1.6"/>
<circle cx="400.80" cy="943.30" r="6.95" fill="#fff" stroke="#000" stroke-width="1.6"/>
<circle cx="420.55" cy="943.30" r="6.95" fill="#fff" stroke="#000" stroke-width="1.6"/>
<circle cx="440.30" cy="943.30" r="6.95" fill="#fff" stroke="#000" stroke-width="1.6"/>
<circle cx="460.05" cy="943.30" r="6.95" fill="#fff" stroke="#000" stroke-width="1.6"/>
<circle cx="479.80" cy="943.30" r="6.95" fill="#fff" stroke="#000" stroke-width="1.6"/>
<circle cx="499.55" cy="943.30" r="6.95" fill="#fff" stroke="#000" stroke-width="1.6"/>
<path d="M321.80,963.10L321.80,970.05A6.95,6.95 0 0 1 321.80,956.15Z" fill="#bdbec3"/>
<path d="M321.80,963.10L321.80,956.15A6.95,6.95 0 0 1 321.80,970.05Z" fill="#f8b81e"/>
<line x1="321.30" y1="956.15" x2="321.30" y2="970.05" stroke="#e4ecee" stroke-width="0.7"/>
<circle cx="321.80" cy="963.10" r="6.95" fill="none" stroke="#000" stroke-width="1.6"/>
<path d="M341.55,963.10L341.55,970.05A6.95,6.95 0 0 1 341.55,956.15Z" fill="#bdbec3"/>
<path d="M341.55,963.10L341.55,956.15A6.95,6.95 0 0 1 341.55,970.05Z" fill="#f8b81e"/>
<line x1="341.05" y1="956.15" x2="341.05" y2="970.05" stroke="#e4ecee" stroke-width="0.7"/>
<circle cx="341.55" cy="963.10" r="6.95" fill="none" stroke="#000" stroke-width="1.6"/>
<circle cx="361.45" cy="964.20" r="6.95" fill="#bdbec3"/>
<circle cx="361.45" cy="964.20" r="5.80" fill="none" stroke="#dde1e4" stroke-width="0.6"/>
<circle cx="361.45" cy="964.20" r="6.95" fill="none" stroke="#000" stroke-width="1.6"/>
<circle cx="381.05" cy="963.10" r="6.95" fill="#fff" stroke="#000" stroke-width="1.6"/>
<circle cx="400.80" cy="963.10" r="6.95" fill="#fff" stroke="#000" stroke-width="1.6"/>
<circle cx="420.55" cy="963.10" r="6.95" fill="#fff" stroke="#000" stroke-width="1.6"/>
<circle cx="440.30" cy="963.10" r="6.95" fill="#fff" stroke="#000" stroke-width="1.6"/>
<circle cx="460.05" cy="963.10" r="6.95" fill="#fff" stroke="#000" stroke-width="1.6"/>
<circle cx="479.80" cy="963.10" r="6.95" fill="#fff" stroke="#000" stroke-width="1.6"/>
<circle cx="499.55" cy="963.10" r="6.95" fill="#fff" stroke="#000" stroke-width="1.6"/>
<path d="M321.80,982.90L315.78,986.38A6.95,6.95 0 0 1 321.80,975.95Z" fill="#bdbec3"/>
<path d="M321.80,982.90L321.80,975.95A6.95,6.95 0 0 1 327.82,986.38Z" fill="#f8b81e"/>
<path d="M321.80,982.90L327.82,986.38A6.95,6.95 0 0 1 315.78,986.38Z" fill="#3cb04a"/>
<line x1="321.80" y1="982.90" x2="321.80" y2="975.95" stroke="#e4ecee" stroke-width="0.7"/>
<line x1="321.80" y1="982.90" x2="327.82" y2="986.38" stroke="#e4ecee" stroke-width="0.7"/>
<line x1="321.80" y1="982.90" x2="315.78" y2="986.38" stroke="#e4ecee" stroke-width="0.7"/>
<circle cx="321.80" cy="982.90" r="6.95" fill="none" stroke="#000" stroke-width="1.6"/>
<path d="M341.55,982.90L341.55,989.85A6.95,6.95 0 0 1 341.55,975.95Z" fill="#bdbec3"/>
<path d="M341.55,982.90L341.55,975.95A6.95,6.95 0 0 1 341.55,989.85Z" fill="#f8b81e"/>
<line x1="341.05" y1="975.95" x2="341.05" y2="989.85" stroke="#e4ecee" stroke-width="0.7"/>
<circle cx="341.55" cy="982.90" r="6.95" fill="none" stroke="#000" stroke-width="1.6"/>
<path d="M361.30,982.90L361.30,989.85A6.95,6.95 0 0 1 361.30,975.95Z" fill="#bdbec3"/>
<path d="M361.30,982.90L361.30,975.95A6.95,6.95 0 0 1 361.30,989.85Z" fill="#f8b81e"/>
<line x1="360.80" y1="975.95" x2="360.80" y2="989.85" stroke="#e4ecee" stroke-width="0.7"/>
<circle cx="361.30" cy="982.90" r="6.95" fill="none" stroke="#000" stroke-width="1.6"/>
<circle cx="381.20" cy="984.00" r="6.95" fill="#bdbec3"/>
<circle cx="381.20" cy="984.00" r="5.80" fill="none" stroke="#dde1e4" stroke-width="0.6"/>
<circle cx="381.20" cy="984.00" r="6.95" fill="none" stroke="#000" stroke-width="1.6"/>
<circle cx="400.80" cy="982.90" r="6.95" fill="#fff" stroke="#000" stroke-width="1.6"/>
<circle cx="420.55" cy="982.90" r="6.95" fill="#fff" stroke="#000" stroke-width="1.6"/>
<circle cx="440.30" cy="982.90" r="6.95" fill="#fff" stroke="#000" stroke-width="1.6"/>
<circle cx="460.05" cy="982.90" r="6.95" fill="#fff" stroke="#000" stroke-width="1.6"/>
<circle cx="479.80" cy="982.90" r="6.95" fill="#fff" stroke="#000" stroke-width="1.6"/>
<circle cx="499.55" cy="982.90" r="6.95" fill="#fff" stroke="#000" stroke-width="1.6"/>
<path d="M321.80,1002.70L315.78,1006.18A6.95,6.95 0 0 1 321.80,995.75Z" fill="#bdbec3"/>
<path d="M321.80,1002.70L321.80,995.75A6.95,6.95 0 0 1 327.82,1006.18Z" fill="#f8b81e"/>
<path d="M321.80,1002.70L327.82,1006.18A6.95,6.95 0 0 1 315.78,1006.18Z" fill="#3cb04a"/>
<line x1="321.80" y1="1002.70" x2="321.80" y2="995.75" stroke="#e4ecee" stroke-width="0.7"/>
<line x1="321.80" y1="1002.70" x2="327.82" y2="1006.18" stroke="#e4ecee" stroke-width="0.7"/>
<line x1="321.80" y1="1002.70" x2="315.78" y2="1006.18" stroke="#e4ecee" stroke-width="0.7"/>
<circle cx="321.80" cy="1002.70" r="6.95" fill="none" stroke="#000" stroke-width="1.6"/>
<path d="M341.55,1002.70L335.53,1006.18A6.95,6.95 0 0 1 341.55,995.75Z" fill="#bdbec3"/>
<path d="M341.55,1002.70L341.55,995.75A6.95,6.95 0 0 1 347.57,1006.18Z" fill="#f8b81e"/>
<path d="M341.55,1002.70L347.57,1006.18A6.95,6.95 0 0 1 335.53,1006.18Z" fill="#3cb04a"/>
<line x1="341.55" y1="1002.70" x2="341.55" y2="995.75" stroke="#e4ecee" stroke-width="0.7"/>
<line x1="341.55" y1="1002.70" x2="347.57" y2="1006.18" stroke="#e4ecee" stroke-width="0.7"/>
<line x1="341.55" y1="1002.70" x2="335.53" y2="1006.18" stroke="#e4ecee" stroke-width="0.7"/>
<circle cx="341.55" cy="1002.70" r="6.95" fill="none" stroke="#000" stroke-width="1.6"/>
<path d="M361.30,1002.70L361.30,1009.65A6.95,6.95 0 0 1 361.30,995.75Z" fill="#bdbec3"/>
<path d="M361.30,1002.70L361.30,995.75A6.95,6.95 0 0 1 361.30,1009.65Z" fill="#f8b81e"/>
<line x1="360.80" y1="995.75" x2="360.80" y2="1009.65" stroke="#e4ecee" stroke-width="0.7"/>
<circle cx="361.30" cy="1002.70" r="6.95" fill="none" stroke="#000" stroke-width="1.6"/>
<path d="M381.05,1002.70L381.05,1009.65A6.95,6.95 0 0 1 381.05,995.75Z" fill="#bdbec3"/>
<path d="M381.05,1002.70L381.05,995.75A6.95,6.95 0 0 1 381.05,1009.65Z" fill="#f8b81e"/>
<line x1="380.55" y1="995.75" x2="380.55" y2="1009.65" stroke="#e4ecee" stroke-width="0.7"/>
<circle cx="381.05" cy="1002.70" r="6.95" fill="none" stroke="#000" stroke-width="1.6"/>
<circle cx="400.95" cy="1003.80" r="6.95" fill="#bdbec3"/>
<circle cx="400.95" cy="1003.80" r="5.80" fill="none" stroke="#dde1e4" stroke-width="0.6"/>
<circle cx="400.95" cy="1003.80" r="6.95" fill="none" stroke="#000" stroke-width="1.6"/>
<circle cx="420.55" cy="1002.70" r="6.95" fill="#fff" stroke="#000" stroke-width="1.6"/>
<circle cx="440.30" cy="1002.70" r="6.95" fill="#fff" stroke="#000" stroke-width="1.6"/>
<circle cx="460.05" cy="1002.70" r="6.95" fill="#fff" stroke="#000" stroke-width="1.6"/>
<circle cx="479.80" cy="1002.70" r="6.95" fill="#fff" stroke="#000" stroke-width="1.6"/>
<circle cx="499.55" cy="1002.70" r="6.95" fill="#fff" stroke="#000" stroke-width="1.6"/>
<path d="M321.80,1022.50L315.78,1025.97A6.95,6.95 0 0 1 321.80,1015.55Z" fill="#bdbec3"/>
<path d="M321.80,1022.50L321.80,1015.55A6.95,6.95 0 0 1 327.82,1025.97Z" fill="#f8b81e"/>
<path d="M321.80,1022.50L327.82,1025.97A6.95,6.95 0 0 1 315.78,1025.97Z" fill="#3cb04a"/>
<line x1="321.80" y1="1022.50" x2="321.80" y2="1015.55" stroke="#e4ecee" stroke-width="0.7"/>
<line x1="321.80" y1="1022.50" x2="327.82" y2="1025.97" stroke="#e4ecee" stroke-width="0.7"/>
<line x1="321.80" y1="1022.50" x2="315.78" y2="1025.97" stroke="#e4ecee" stroke-width="0.7"/>
<circle cx="321.80" cy="1022.50" r="6.95" fill="none" stroke="#000" stroke-width="1.6"/>
<path d="M341.55,1022.50L335.53,1025.97A6.95,6.95 0 0 1 341.55,1015.55Z" fill="#bdbec3"/>
<path d="M341.55,1022.50L341.55,1015.55A6.95,6.95 0 0 1 347.57,1025.97Z" fill="#f8b81e"/>
<path d="M341.55,1022.50L347.57,1025.97A6.95,6.95 0 0 1 335.53,1025.97Z" fill="#3cb04a"/>
<line x1="341.55" y1="1022.50" x2="341.55" y2="1015.55" stroke="#e4ecee" stroke-width="0.7"/>
<line x1="341.55" y1="1022.50" x2="347.57" y2="1025.97" stroke="#e4ecee" stroke-width="0.7"/>
<line x1="341.55" y1="1022.50" x2="335.53" y2="1025.97" stroke="#e4ecee" stroke-width="0.7"/>
<circle cx="341.55" cy="1022.50" r="6.95" fill="none" stroke="#000" stroke-width="1.6"/>
<path d="M361.30,1022.50L355.28,1025.97A6.95,6.95 0 0 1 361.30,1015.55Z" fill="#bdbec3"/>
<path d="M361.30,1022.50L361.30,1015.55A6.95,6.95 0 0 1 367.32,1025.97Z" fill="#f8b81e"/>
<path d="M361.30,1022.50L367.32,1025.97A6.95,6.95 0 0 1 355.28,1025.97Z" fill="#3cb04a"/>
<line x1="361.30" y1="1022.50" x2="361.30" y2="1015.55" stroke="#e4ecee" stroke-width="0.7"/>
<line x1="361.30" y1="1022.50" x2="367.32" y2="1025.97" stroke="#e4ecee" stroke-width="0.7"/>
<line x1="361.30" y1="1022.50" x2="355.28" y2="1025.97" stroke="#e4ecee" stroke-width="0.7"/>
<circle cx="361.30" cy="1022.50" r="6.95" fill="none" stroke="#000" stroke-width="1.6"/>
<path d="M381.05,1022.50L381.05,1029.45A6.95,6.95 0 0 1 381.05,1015.55Z" fill="#bdbec3"/>
<path d="M381.05,1022.50L381.05,1015.55A6.95,6.95 0 0 1 381.05,1029.45Z" fill="#f8b81e"/>
<line x1="380.55" y1="1015.55" x2="380.55" y2="1029.45" stroke="#e4ecee" stroke-width="0.7"/>
<circle cx="381.05" cy="1022.50" r="6.95" fill="none" stroke="#000" stroke-width="1.6"/>
<path d="M400.80,1022.50L400.80,1029.45A6.95,6.95 0 0 1 400.80,1015.55Z" fill="#bdbec3"/>
<path d="M400.80,1022.50L400.80,1015.55A6.95,6.95 0 0 1 400.80,1029.45Z" fill="#f8b81e"/>
<line x1="400.30" y1="1015.55" x2="400.30" y2="1029.45" stroke="#e4ecee" stroke-width="0.7"/>
<circle cx="400.80" cy="1022.50" r="6.95" fill="none" stroke="#000" stroke-width="1.6"/>
<circle cx="420.70" cy="1023.60" r="6.95" fill="#bdbec3"/>
<circle cx="420.70" cy="1023.60" r="5.80" fill="none" stroke="#dde1e4" stroke-width="0.6"/>
<circle cx="420.70" cy="1023.60" r="6.95" fill="none" stroke="#000" stroke-width="1.6"/>
<circle cx="440.30" cy="1022.50" r="6.95" fill="#fff" stroke="#000" stroke-width="1.6"/>
<circle cx="460.05" cy="1022.50" r="6.95" fill="#fff" stroke="#000" stroke-width="1.6"/>
<circle cx="479.80" cy="1022.50" r="6.95" fill="#fff" stroke="#000" stroke-width="1.6"/>
<circle cx="499.55" cy="1022.50" r="6.95" fill="#fff" stroke="#000" stroke-width="1.6"/>
<path d="M321.80,1042.30L315.78,1045.77A6.95,6.95 0 0 1 321.80,1035.35Z" fill="#bdbec3"/>
<path d="M321.80,1042.30L321.80,1035.35A6.95,6.95 0 0 1 327.82,1045.77Z" fill="#f8b81e"/>
<path d="M321.80,1042.30L327.82,1045.77A6.95,6.95 0 0 1 315.78,1045.77Z" fill="#3cb04a"/>
<line x1="321.80" y1="1042.30" x2="321.80" y2="1035.35" stroke="#e4ecee" stroke-width="0.7"/>
<line x1="321.80" y1="1042.30" x2="327.82" y2="1045.77" stroke="#e4ecee" stroke-width="0.7"/>
<line x1="321.80" y1="1042.30" x2="315.78" y2="1045.77" stroke="#e4ecee" stroke-width="0.7"/>
<circle cx="321.80" cy="1042.30" r="6.95" fill="none" stroke="#000" stroke-width="1.6"/>
<path d="M341.55,1042.30L335.53,1045.77A6.95,6.95 0 0 1 341.55,1035.35Z" fill="#bdbec3"/>
<path d="M341.55,1042.30L341.55,1035.35A6.95,6.95 0 0 1 347.57,1045.77Z" fill="#f8b81e"/>
<path d="M341.55,1042.30L347.57,1045.77A6.95,6.95 0 0 1 335.53,1045.77Z" fill="#3cb04a"/>
<line x1="341.55" y1="1042.30" x2="341.55" y2="1035.35" stroke="#e4ecee" stroke-width="0.7"/>
<line x1="341.55" y1="1042.30" x2="347.57" y2="1045.77" stroke="#e4ecee" stroke-width="0.7"/>
<line x1="341.55" y1="1042.30" x2="335.53" y2="1045.77" stroke="#e4ecee" stroke-width="0.7"/>
<circle cx="341.55" cy="1042.30" r="6.95" fill="none" stroke="#000" stroke-width="1.6"/>
<path d="M361.30,1042.30L355.28,1045.77A6.95,6.95 0 0 1 361.30,1035.35Z" fill="#bdbec3"/>
<path d="M361.30,1042.30L361.30,1035.35A6.95,6.95 0 0 1 367.32,1045.77Z" fill="#f8b81e"/>
<path d="M361.30,1042.30L367.32,1045.77A6.95,6.95 0 0 1 355.28,1045.77Z" fill="#3cb04a"/>
<line x1="361.30" y1="1042.30" x2="361.30" y2="1035.35" stroke="#e4ecee" stroke-width="0.7"/>
<line x1="361.30" y1="1042.30" x2="367.32" y2="1045.77" stroke="#e4ecee" stroke-width="0.7"/>
<line x1="361.30" y1="1042.30" x2="355.28" y2="1045.77" stroke="#e4ecee" stroke-width="0.7"/>
<circle cx="361.30" cy="1042.30" r="6.95" fill="none" stroke="#000" stroke-width="1.6"/>
<path d="M381.05,1042.30L375.03,1045.77A6.95,6.95 0 0 1 381.05,1035.35Z" fill="#bdbec3"/>
<path d="M381.05,1042.30L381.05,1035.35A6.95,6.95 0 0 1 387.07,1045.77Z" fill="#f8b81e"/>
<path d="M381.05,1042.30L387.07,1045.77A6.95,6.95 0 0 1 375.03,1045.77Z" fill="#3cb04a"/>
<line x1="381.05" y1="1042.30" x2="381.05" y2="1035.35" stroke="#e4ecee" stroke-width="0.7"/>
<line x1="381.05" y1="1042.30" x2="387.07" y2="1045.77" stroke="#e4ecee" stroke-width="0.7"/>
<line x1="381.05" y1="1042.30" x2="375.03" y2="1045.77" stroke="#e4ecee" stroke-width="0.7"/>
<circle cx="381.05" cy="1042.30" r="6.95" fill="none" stroke="#000" stroke-width="1.6"/>
<path d="M400.80,1042.30L400.80,1049.25A6.95,6.95 0 0 1 400.80,1035.35Z" fill="#bdbec3"/>
<path d="M400.80,1042.30L400.80,1035.35A6.95,6.95 0 0 1 400.80,1049.25Z" fill="#f8b81e"/>
<line x1="400.30" y1="1035.35" x2="400.30" y2="1049.25" stroke="#e4ecee" stroke-width="0.7"/>
<circle cx="400.80" cy="1042.30" r="6.95" fill="none" stroke="#000" stroke-width="1.6"/>
<path d="M420.55,1042.30L420.55,1049.25A6.95,6.95 0 0 1 420.55,1035.35Z" fill="#bdbec3"/>
<path d="M420.55,1042.30L420.55,1035.35A6.95,6.95 0 0 1 420.55,1049.25Z" fill="#f8b81e"/>
<line x1="420.05" y1="1035.35" x2="420.05" y2="1049.25" stroke="#e4ecee" stroke-width="0.7"/>
<circle cx="420.55" cy="1042.30" r="6.95" fill="none" stroke="#000" stroke-width="1.6"/>
<circle cx="440.45" cy="1043.40" r="6.95" fill="#bdbec3"/>
<circle cx="440.45" cy="1043.40" r="5.80" fill="none" stroke="#dde1e4" stroke-width="0.6"/>
<circle cx="440.45" cy="1043.40" r="6.95" fill="none" stroke="#000" stroke-width="1.6"/>
<circle cx="460.05" cy="1042.30" r="6.95" fill="#fff" stroke="#000" stroke-width="1.6"/>
<circle cx="479.80" cy="1042.30" r="6.95" fill="#fff" stroke="#000" stroke-width="1.6"/>
<circle cx="499.55" cy="1042.30" r="6.95" fill="#fff" stroke="#000" stroke-width="1.6"/>
<path d="M321.80,1062.10L314.85,1062.10A6.95,6.95 0 0 1 321.80,1055.15Z" fill="#bdbec3"/>
<path d="M321.80,1062.10L321.80,1055.15A6.95,6.95 0 0 1 328.75,1062.10Z" fill="#f8b81e"/>
<path d="M321.80,1062.10L328.75,1062.10A6.95,6.95 0 0 1 321.80,1069.05Z" fill="#bdbec3"/>
<path d="M321.80,1062.10L321.80,1069.05A6.95,6.95 0 0 1 314.85,1062.10Z" fill="#17508a"/>
<line x1="321.80" y1="1062.10" x2="321.80" y2="1055.15" stroke="#e4ecee" stroke-width="0.7"/>
<line x1="321.80" y1="1062.10" x2="328.75" y2="1062.10" stroke="#e4ecee" stroke-width="0.7"/>
<line x1="321.80" y1="1062.10" x2="321.80" y2="1069.05" stroke="#e4ecee" stroke-width="0.7"/>
<line x1="321.80" y1="1062.10" x2="314.85" y2="1062.10" stroke="#e4ecee" stroke-width="0.7"/>
<circle cx="321.80" cy="1062.10" r="6.95" fill="none" stroke="#000" stroke-width="1.6"/>
<path d="M341.55,1062.10L335.53,1065.57A6.95,6.95 0 0 1 341.55,1055.15Z" fill="#bdbec3"/>
<path d="M341.55,1062.10L341.55,1055.15A6.95,6.95 0 0 1 347.57,1065.57Z" fill="#f8b81e"/>
<path d="M341.55,1062.10L347.57,1065.57A6.95,6.95 0 0 1 335.53,1065.57Z" fill="#3cb04a"/>
<line x1="341.55" y1="1062.10" x2="341.55" y2="1055.15" stroke="#e4ecee" stroke-width="0.7"/>
<line x1="341.55" y1="1062.10" x2="347.57" y2="1065.57" stroke="#e4ecee" stroke-width="0.7"/>
<line x1="341.55" y1="1062.10" x2="335.53" y2="1065.57" stroke="#e4ecee" stroke-width="0.7"/>
<circle cx="341.55" cy="1062.10" r="6.95" fill="none" stroke="#000" stroke-width="1.6"/>
<path d="M361.30,1062.10L355.28,1065.57A6.95,6.95 0 0 1 361.30,1055.15Z" fill="#bdbec3"/>
<path d="M361.30,1062.10L361.30,1055.15A6.95,6.95 0 0 1 367.32,1065.57Z" fill="#f8b81e"/>
<path d="M361.30,1062.10L367.32,1065.57A6.95,6.95 0 0 1 355.28,1065.57Z" fill="#3cb04a"/>
<line x1="361.30" y1="1062.10" x2="361.30" y2="1055.15" stroke="#e4ecee" stroke-width="0.7"/>
<line x1="361.30" y1="1062.10" x2="367.32" y2="1065.57" stroke="#e4ecee" stroke-width="0.7"/>
<line x1="361.30" y1="1062.10" x2="355.28" y2="1065.57" stroke="#e4ecee" stroke-width="0.7"/>
<circle cx="361.30" cy="1062.10" r="6.95" fill="none" stroke="#000" stroke-width="1.6"/>
<path d="M381.05,1062.10L375.03,1065.57A6.95,6.95 0 0 1 381.05,1055.15Z" fill="#bdbec3"/>
<path d="M381.05,1062.10L381.05,1055.15A6.95,6.95 0 0 1 387.07,1065.57Z" fill="#f8b81e"/>
<path d="M381.05,1062.10L387.07,1065.57A6.95,6.95 0 0 1 375.03,1065.57Z" fill="#3cb04a"/>
<line x1="381.05" y1="1062.10" x2="381.05" y2="1055.15" stroke="#e4ecee" stroke-width="0.7"/>
<line x1="381.05" y1="1062.10" x2="387.07" y2="1065.57" stroke="#e4ecee" stroke-width="0.7"/>
<line x1="381.05" y1="1062.10" x2="375.03" y2="1065.57" stroke="#e4ecee" stroke-width="0.7"/>
<circle cx="381.05" cy="1062.10" r="6.95" fill="none" stroke="#000" stroke-width="1.6"/>
<path d="M400.80,1062.10L394.78,1065.57A6.95,6.95 0 0 1 400.80,1055.15Z" fill="#bdbec3"/>
<path d="M400.80,1062.10L400.80,1055.15A6.95,6.95 0 0 1 406.82,1065.57Z" fill="#f8b81e"/>
<path d="M400.80,1062.10L406.82,1065.57A6.95,6.95 0 0 1 394.78,1065.57Z" fill="#3cb04a"/>
<line x1="400.80" y1="1062.10" x2="400.80" y2="1055.15" stroke="#e4ecee" stroke-width="0.7"/>
<line x1="400.80" y1="1062.10" x2="406.82" y2="1065.57" stroke="#e4ecee" stroke-width="0.7"/>
<line x1="400.80" y1="1062.10" x2="394.78" y2="1065.57" stroke="#e4ecee" stroke-width="0.7"/>
<circle cx="400.80" cy="1062.10" r="6.95" fill="none" stroke="#000" stroke-width="1.6"/>
<path d="M420.55,1062.10L420.55,1069.05A6.95,6.95 0 0 1 420.55,1055.15Z" fill="#bdbec3"/>
<path d="M420.55,1062.10L420.55,1055.15A6.95,6.95 0 0 1 420.55,1069.05Z" fill="#f8b81e"/>
<line x1="420.05" y1="1055.15" x2="420.05" y2="1069.05" stroke="#e4ecee" stroke-width="0.7"/>
<circle cx="420.55" cy="1062.10" r="6.95" fill="none" stroke="#000" stroke-width="1.6"/>
<path d="M440.30,1062.10L440.30,1069.05A6.95,6.95 0 0 1 440.30,1055.15Z" fill="#bdbec3"/>
<path d="M440.30,1062.10L440.30,1055.15A6.95,6.95 0 0 1 440.30,1069.05Z" fill="#f8b81e"/>
<line x1="439.80" y1="1055.15" x2="439.80" y2="1069.05" stroke="#e4ecee" stroke-width="0.7"/>
<circle cx="440.30" cy="1062.10" r="6.95" fill="none" stroke="#000" stroke-width="1.6"/>
<circle cx="460.20" cy="1063.20" r="6.95" fill="#bdbec3"/>
<circle cx="460.20" cy="1063.20" r="5.80" fill="none" stroke="#dde1e4" stroke-width="0.6"/>
<circle cx="460.20" cy="1063.20" r="6.95" fill="none" stroke="#000" stroke-width="1.6"/>
<circle cx="479.80" cy="1062.10" r="6.95" fill="#fff" stroke="#000" stroke-width="1.6"/>
<circle cx="499.55" cy="1062.10" r="6.95" fill="#fff" stroke="#000" stroke-width="1.6"/>
<path d="M321.80,1081.90L314.85,1081.90A6.95,6.95 0 0 1 321.80,1074.95Z" fill="#bdbec3"/>
<path d="M321.80,1081.90L321.80,1074.95A6.95,6.95 0 0 1 328.75,1081.90Z" fill="#f8b81e"/>
<path d="M321.80,1081.90L328.75,1081.90A6.95,6.95 0 0 1 321.80,1088.85Z" fill="#bdbec3"/>
<path d="M321.80,1081.90L321.80,1088.85A6.95,6.95 0 0 1 314.85,1081.90Z" fill="#17508a"/>
<line x1="321.80" y1="1081.90" x2="321.80" y2="1074.95" stroke="#e4ecee" stroke-width="0.7"/>
<line x1="321.80" y1="1081.90" x2="328.75" y2="1081.90" stroke="#e4ecee" stroke-width="0.7"/>
<line x1="321.80" y1="1081.90" x2="321.80" y2="1088.85" stroke="#e4ecee" stroke-width="0.7"/>
<line x1="321.80" y1="1081.90" x2="314.85" y2="1081.90" stroke="#e4ecee" stroke-width="0.7"/>
<circle cx="321.80" cy="1081.90" r="6.95" fill="none" stroke="#000" stroke-width="1.6"/>
<path d="M341.55,1081.90L334.60,1081.90A6.95,6.95 0 0 1 341.55,1074.95Z" fill="#bdbec3"/>
<path d="M341.55,1081.90L341.55,1074.95A6.95,6.95 0 0 1 348.50,1081.90Z" fill="#f8b81e"/>
<path d="M341.55,1081.90L348.50,1081.90A6.95,6.95 0 0 1 341.55,1088.85Z" fill="#3cb04a"/>
<path d="M341.55,1081.90L341.55,1088.85A6.95,6.95 0 0 1 334.60,1081.90Z" fill="#17508a"/>
<line x1="341.55" y1="1081.90" x2="341.55" y2="1074.95" stroke="#e4ecee" stroke-width="0.7"/>
<line x1="341.55" y1="1081.90" x2="348.50" y2="1081.90" stroke="#e4ecee" stroke-width="0.7"/>
<line x1="341.55" y1="1081.90" x2="341.55" y2="1088.85" stroke="#e4ecee" stroke-width="0.7"/>
<line x1="341.55" y1="1081.90" x2="334.60" y2="1081.90" stroke="#e4ecee" stroke-width="0.7"/>
<circle cx="341.55" cy="1081.90" r="6.95" fill="none" stroke="#000" stroke-width="1.6"/>
<path d="M361.30,1081.90L355.28,1085.38A6.95,6.95 0 0 1 361.30,1074.95Z" fill="#bdbec3"/>
<path d="M361.30,1081.90L361.30,1074.95A6.95,6.95 0 0 1 367.32,1085.38Z" fill="#f8b81e"/>
<path d="M361.30,1081.90L367.32,1085.38A6.95,6.95 0 0 1 355.28,1085.38Z" fill="#3cb04a"/>
<line x1="361.30" y1="1081.90" x2="361.30" y2="1074.95" stroke="#e4ecee" stroke-width="0.7"/>
<line x1="361.30" y1="1081.90" x2="367.32" y2="1085.38" stroke="#e4ecee" stroke-width="0.7"/>
<line x1="361.30" y1="1081.90" x2="355.28" y2="1085.38" stroke="#e4ecee" stroke-width="0.7"/>
<circle cx="361.30" cy="1081.90" r="6.95" fill="none" stroke="#000" stroke-width="1.6"/>
<path d="M381.05,1081.90L375.03,1085.38A6.95,6.95 0 0 1 381.05,1074.95Z" fill="#bdbec3"/>
<path d="M381.05,1081.90L381.05,1074.95A6.95,6.95 0 0 1 387.07,1085.38Z" fill="#f8b81e"/>
<path d="M381.05,1081.90L387.07,1085.38A6.95,6.95 0 0 1 375.03,1085.38Z" fill="#3cb04a"/>
<line x1="381.05" y1="1081.90" x2="381.05" y2="1074.95" stroke="#e4ecee" stroke-width="0.7"/>
<line x1="381.05" y1="1081.90" x2="387.07" y2="1085.38" stroke="#e4ecee" stroke-width="0.7"/>
<line x1="381.05" y1="1081.90" x2="375.03" y2="1085.38" stroke="#e4ecee" stroke-width="0.7"/>
<circle cx="381.05" cy="1081.90" r="6.95" fill="none" stroke="#000" stroke-width="1.6"/>
<path d="M400.80,1081.90L394.78,1085.38A6.95,6.95 0 0 1 400.80,1074.95Z" fill="#bdbec3"/>
<path d="M400.80,1081.90L400.80,1074.95A6.95,6.95 0 0 1 406.82,1085.38Z" fill="#f8b81e"/>
<path d="M400.80,1081.90L406.82,1085.38A6.95,6.95 0 0 1 394.78,1085.38Z" fill="#3cb04a"/>
<line x1="400.80" y1="1081.90" x2="400.80" y2="1074.95" stroke="#e4ecee" stroke-width="0.7"/>
<line x1="400.80" y1="1081.90" x2="406.82" y2="1085.38" stroke="#e4ecee" stroke-width="0.7"/>
<line x1="400.80" y1="1081.90" x2="394.78" y2="1085.38" stroke="#e4ecee" stroke-width="0.7"/>
<circle cx="400.80" cy="1081.90" r="6.95" fill="none" stroke="#000" stroke-width="1.6"/>
<path d="M420.55,1081.90L414.53,1085.38A6.95,6.95 0 0 1 420.55,1074.95Z" fill="#bdbec3"/>
<path d="M420.55,1081.90L420.55,1074.95A6.95,6.95 0 0 1 426.57,1085.38Z" fill="#f8b81e"/>
<path d="M420.55,1081.90L426.57,1085.38A6.95,6.95 0 0 1 414.53,1085.38Z" fill="#3cb04a"/>
<line x1="420.55" y1="1081.90" x2="420.55" y2="1074.95" stroke="#e4ecee" stroke-width="0.7"/>
<line x1="420.55" y1="1081.90" x2="426.57" y2="1085.38" stroke="#e4ecee" stroke-width="0.7"/>
<line x1="420.55" y1="1081.90" x2="414.53" y2="1085.38" stroke="#e4ecee" stroke-width="0.7"/>
<circle cx="420.55" cy="1081.90" r="6.95" fill="none" stroke="#000" stroke-width="1.6"/>
<path d="M440.30,1081.90L440.30,1088.85A6.95,6.95 0 0 1 440.30,1074.95Z" fill="#bdbec3"/>
<path d="M440.30,1081.90L440.30,1074.95A6.95,6.95 0 0 1 440.30,1088.85Z" fill="#f8b81e"/>
<line x1="439.80" y1="1074.95" x2="439.80" y2="1088.85" stroke="#e4ecee" stroke-width="0.7"/>
<circle cx="440.30" cy="1081.90" r="6.95" fill="none" stroke="#000" stroke-width="1.6"/>
<path d="M460.05,1081.90L460.05,1088.85A6.95,6.95 0 0 1 460.05,1074.95Z" fill="#bdbec3"/>
<path d="M460.05,1081.90L460.05,1074.95A6.95,6.95 0 0 1 460.05,1088.85Z" fill="#f8b81e"/>
<line x1="459.55" y1="1074.95" x2="459.55" y2="1088.85" stroke="#e4ecee" stroke-width="0.7"/>
<circle cx="460.05" cy="1081.90" r="6.95" fill="none" stroke="#000" stroke-width="1.6"/>
<circle cx="479.95" cy="1083.00" r="6.95" fill="#bdbec3"/>
<circle cx="479.95" cy="1083.00" r="5.80" fill="none" stroke="#dde1e4" stroke-width="0.6"/>
<circle cx="479.95" cy="1083.00" r="6.95" fill="none" stroke="#000" stroke-width="1.6"/>
<circle cx="499.55" cy="1081.90" r="6.95" fill="#fff" stroke="#000" stroke-width="1.6"/>
<path d="M321.80,1101.70L314.85,1101.70A6.95,6.95 0 0 1 321.80,1094.75Z" fill="#bdbec3"/>
<path d="M321.80,1101.70L321.80,1094.75A6.95,6.95 0 0 1 328.75,1101.70Z" fill="#f8b81e"/>
<path d="M321.80,1101.70L328.75,1101.70A6.95,6.95 0 0 1 321.80,1108.65Z" fill="#3cb04a"/>
<path d="M321.80,1101.70L321.80,1108.65A6.95,6.95 0 0 1 314.85,1101.70Z" fill="#17508a"/>
<line x1="321.80" y1="1101.70" x2="321.80" y2="1094.75" stroke="#e4ecee" stroke-width="0.7"/>
<line x1="321.80" y1="1101.70" x2="328.75" y2="1101.70" stroke="#e4ecee" stroke-width="0.7"/>
<line x1="321.80" y1="1101.70" x2="321.80" y2="1108.65" stroke="#e4ecee" stroke-width="0.7"/>
<line x1="321.80" y1="1101.70" x2="314.85" y2="1101.70" stroke="#e4ecee" stroke-width="0.7"/>
<circle cx="321.80" cy="1101.70" r="6.95" fill="none" stroke="#000" stroke-width="1.6"/>
<path d="M341.55,1101.70L334.60,1101.70A6.95,6.95 0 0 1 341.55,1094.75Z" fill="#bdbec3"/>
<path d="M341.55,1101.70L341.55,1094.75A6.95,6.95 0 0 1 348.50,1101.70Z" fill="#f8b81e"/>
<path d="M341.55,1101.70L348.50,1101.70A6.95,6.95 0 0 1 341.55,1108.65Z" fill="#3cb04a"/>
<path d="M341.55,1101.70L341.55,1108.65A6.95,6.95 0 0 1 334.60,1101.70Z" fill="#17508a"/>
<line x1="341.55" y1="1101.70" x2="341.55" y2="1094.75" stroke="#e4ecee" stroke-width="0.7"/>
<line x1="341.55" y1="1101.70" x2="348.50" y2="1101.70" stroke="#e4ecee" stroke-width="0.7"/>
<line x1="341.55" y1="1101.70" x2="341.55" y2="1108.65" stroke="#e4ecee" stroke-width="0.7"/>
<line x1="341.55" y1="1101.70" x2="334.60" y2="1101.70" stroke="#e4ecee" stroke-width="0.7"/>
<circle cx="341.55" cy="1101.70" r="6.95" fill="none" stroke="#000" stroke-width="1.6"/>
<path d="M361.30,1101.70L354.35,1101.70A6.95,6.95 0 0 1 361.30,1094.75Z" fill="#bdbec3"/>
<path d="M361.30,1101.70L361.30,1094.75A6.95,6.95 0 0 1 368.25,1101.70Z" fill="#f8b81e"/>
<path d="M361.30,1101.70L368.25,1101.70A6.95,6.95 0 0 1 361.30,1108.65Z" fill="#3cb04a"/>
<path d="M361.30,1101.70L361.30,1108.65A6.95,6.95 0 0 1 354.35,1101.70Z" fill="#17508a"/>
<line x1="361.30" y1="1101.70" x2="361.30" y2="1094.75" stroke="#e4ecee" stroke-width="0.7"/>
<line x1="361.30" y1="1101.70" x2="368.25" y2="1101.70" stroke="#e4ecee" stroke-width="0.7"/>
<line x1="361.30" y1="1101.70" x2="361.30" y2="1108.65" stroke="#e4ecee" stroke-width="0.7"/>
<line x1="361.30" y1="1101.70" x2="354.35" y2="1101.70" stroke="#e4ecee" stroke-width="0.7"/>
<circle cx="361.30" cy="1101.70" r="6.95" fill="none" stroke="#000" stroke-width="1.6"/>
<path d="M381.05,1101.70L375.03,1105.17A6.95,6.95 0 0 1 381.05,1094.75Z" fill="#bdbec3"/>
<path d="M381.05,1101.70L381.05,1094.75A6.95,6.95 0 0 1 387.07,1105.17Z" fill="#f8b81e"/>
<path d="M381.05,1101.70L387.07,1105.17A6.95,6.95 0 0 1 375.03,1105.17Z" fill="#3cb04a"/>
<line x1="381.05" y1="1101.70" x2="381.05" y2="1094.75" stroke="#e4ecee" stroke-width="0.7"/>
<line x1="381.05" y1="1101.70" x2="387.07" y2="1105.17" stroke="#e4ecee" stroke-width="0.7"/>
<line x1="381.05" y1="1101.70" x2="375.03" y2="1105.17" stroke="#e4ecee" stroke-width="0.7"/>
<circle cx="381.05" cy="1101.70" r="6.95" fill="none" stroke="#000" stroke-width="1.6"/>
<path d="M400.80,1101.70L394.78,1105.17A6.95,6.95 0 0 1 400.80,1094.75Z" fill="#bdbec3"/>
<path d="M400.80,1101.70L400.80,1094.75A6.95,6.95 0 0 1 406.82,1105.17Z" fill="#f8b81e"/>
<path d="M400.80,1101.70L406.82,1105.17A6.95,6.95 0 0 1 394.78,1105.17Z" fill="#3cb04a"/>
<line x1="400.80" y1="1101.70" x2="400.80" y2="1094.75" stroke="#e4ecee" stroke-width="0.7"/>
<line x1="400.80" y1="1101.70" x2="406.82" y2="1105.17" stroke="#e4ecee" stroke-width="0.7"/>
<line x1="400.80" y1="1101.70" x2="394.78" y2="1105.17" stroke="#e4ecee" stroke-width="0.7"/>
<circle cx="400.80" cy="1101.70" r="6.95" fill="none" stroke="#000" stroke-width="1.6"/>
<path d="M420.55,1101.70L414.53,1105.17A6.95,6.95 0 0 1 420.55,1094.75Z" fill="#bdbec3"/>
<path d="M420.55,1101.70L420.55,1094.75A6.95,6.95 0 0 1 426.57,1105.17Z" fill="#f8b81e"/>
<path d="M420.55,1101.70L426.57,1105.17A6.95,6.95 0 0 1 414.53,1105.17Z" fill="#3cb04a"/>
<line x1="420.55" y1="1101.70" x2="420.55" y2="1094.75" stroke="#e4ecee" stroke-width="0.7"/>
<line x1="420.55" y1="1101.70" x2="426.57" y2="1105.17" stroke="#e4ecee" stroke-width="0.7"/>
<line x1="420.55" y1="1101.70" x2="414.53" y2="1105.17" stroke="#e4ecee" stroke-width="0.7"/>
<circle cx="420.55" cy="1101.70" r="6.95" fill="none" stroke="#000" stroke-width="1.6"/>
<path d="M440.30,1101.70L434.28,1105.17A6.95,6.95 0 0 1 440.30,1094.75Z" fill="#bdbec3"/>
<path d="M440.30,1101.70L440.30,1094.75A6.95,6.95 0 0 1 446.32,1105.17Z" fill="#f8b81e"/>
<path d="M440.30,1101.70L446.32,1105.17A6.95,6.95 0 0 1 434.28,1105.17Z" fill="#3cb04a"/>
<line x1="440.30" y1="1101.70" x2="440.30" y2="1094.75" stroke="#e4ecee" stroke-width="0.7"/>
<line x1="440.30" y1="1101.70" x2="446.32" y2="1105.17" stroke="#e4ecee" stroke-width="0.7"/>
<line x1="440.30" y1="1101.70" x2="434.28" y2="1105.17" stroke="#e4ecee" stroke-width="0.7"/>
<circle cx="440.30" cy="1101.70" r="6.95" fill="none" stroke="#000" stroke-width="1.6"/>
<path d="M460.05,1101.70L460.05,1108.65A6.95,6.95 0 0 1 460.05,1094.75Z" fill="#bdbec3"/>
<path d="M460.05,1101.70L460.05,1094.75A6.95,6.95 0 0 1 460.05,1108.65Z" fill="#f8b81e"/>
<line x1="459.55" y1="1094.75" x2="459.55" y2="1108.65" stroke="#e4ecee" stroke-width="0.7"/>
<circle cx="460.05" cy="1101.70" r="6.95" fill="none" stroke="#000" stroke-width="1.6"/>
<path d="M479.80,1101.70L479.80,1108.65A6.95,6.95 0 0 1 479.80,1094.75Z" fill="#bdbec3"/>
<path d="M479.80,1101.70L479.80,1094.75A6.95,6.95 0 0 1 479.80,1108.65Z" fill="#f8b81e"/>
<line x1="479.30" y1="1094.75" x2="479.30" y2="1108.65" stroke="#e4ecee" stroke-width="0.7"/>
<circle cx="479.80" cy="1101.70" r="6.95" fill="none" stroke="#000" stroke-width="1.6"/>
<circle cx="499.70" cy="1102.80" r="6.95" fill="#bdbec3"/>
<circle cx="499.70" cy="1102.80" r="5.80" fill="none" stroke="#dde1e4" stroke-width="0.6"/>
<circle cx="499.70" cy="1102.80" r="6.95" fill="none" stroke="#000" stroke-width="1.6"/>
<line x1="318.80" y1="1119.30" x2="368.30" y2="1119.30" stroke="#000" stroke-width="1.6"/>
<line x1="377.00" y1="1119.30" x2="443.00" y2="1119.30" stroke="#000" stroke-width="1.6"/>
<line x1="454.40" y1="1119.30" x2="485.00" y2="1119.30" stroke="#000" stroke-width="1.6"/>
<line x1="494.60" y1="1119.30" x2="507.30" y2="1119.30" stroke="#000" stroke-width="1.6"/>
<text x="324.25" y="1139.37" font-size="12.68" textLength="39.44" lengthAdjust="spacingAndGlyphs">ABCD</text>
<text x="395.75" y="1139.37" font-size="12.68" textLength="29.27" lengthAdjust="spacingAndGlyphs">ABC</text>
<text x="460.00" y="1139.50" font-size="13.04" textLength="19.28" lengthAdjust="spacingAndGlyphs">AB</text>
<text x="495.40" y="1139.50" font-size="13.04" textLength="9.83" lengthAdjust="spacingAndGlyphs">A</text>
<text transform="translate(285.33,1012.22) rotate(-90)" x="0" y="0" font-size="16.60" textLength="50.29" lengthAdjust="spacingAndGlyphs" stroke="#000" stroke-width="0.5">Subclonal</text>
<text transform="translate(285.50,1054.40) rotate(-90)" x="0" y="0" font-size="17.68" textLength="36.85" lengthAdjust="spacingAndGlyphs" stroke="#000" stroke-width="0.5">PTPN11</text>
<rect x="1" y="1" width="518" height="1152.8" fill="none" stroke="#000" stroke-width="2.2"/>
</svg>
</body></html>
